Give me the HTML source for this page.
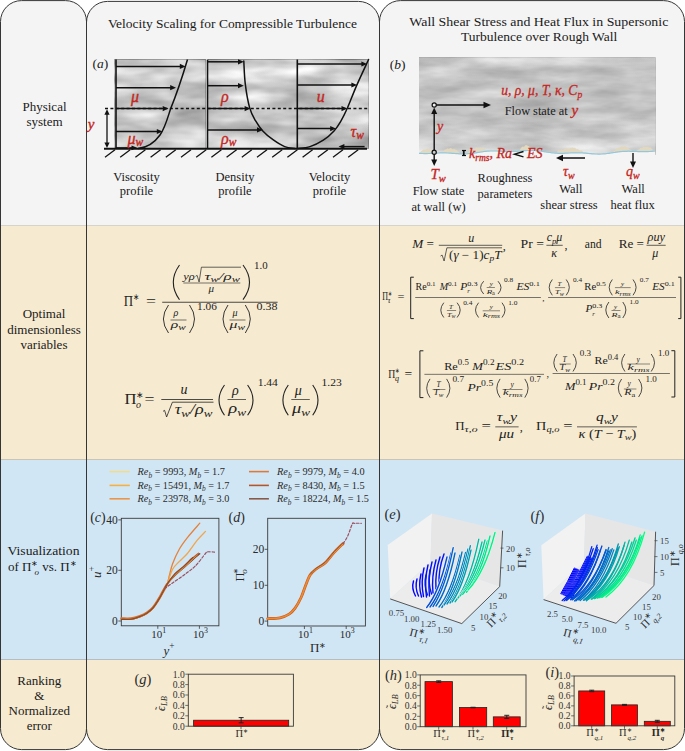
<!DOCTYPE html>
<html><head><meta charset="utf-8"><style>
html,body{margin:0;padding:0;background:#ffffff;width:685px;height:751px;overflow:hidden}
svg{display:block}
text{font-family:"Liberation Serif",serif}
</style></head><body>
<svg width="685" height="751" viewBox="0 0 685 751" fill="#1a1a1a">
<defs>
<clipPath id="col0"><rect x="0.5" y="0.6" width="86.0" height="749.0" rx="21" ry="21"/></clipPath>
<clipPath id="col1"><rect x="86.5" y="1.4" width="293.0" height="748.2" rx="21" ry="21"/></clipPath>
<clipPath id="col2"><rect x="379.5" y="0.6" width="305.0" height="749.0" rx="21" ry="21"/></clipPath>
<filter id="turbA" x="0" y="0" width="1" height="1" filterUnits="objectBoundingBox" color-interpolation-filters="sRGB">
<feTurbulence type="fractalNoise" baseFrequency="0.018 0.06" numOctaves="3" seed="5" result="n"/>
<feColorMatrix in="n" type="matrix" values="1 0 0 0 0  1 0 0 0 0  1 0 0 0 0  0 0 0 0 1" result="g"/>
<feComposite in="g" in2="SourceGraphic" operator="arithmetic" k1="0" k2="0.5" k3="1" k4="-0.25"/>
</filter>
<filter id="turbB" x="0" y="0" width="1" height="1" filterUnits="objectBoundingBox" color-interpolation-filters="sRGB">
<feTurbulence type="fractalNoise" baseFrequency="0.016 0.06" numOctaves="4" seed="11" result="n"/>
<feColorMatrix in="n" type="matrix" values="1 0 0 0 0  1 0 0 0 0  1 0 0 0 0  0 0 0 0 1" result="g"/>
<feComposite in="g" in2="SourceGraphic" operator="arithmetic" k1="0" k2="0.32" k3="1" k4="-0.16"/>
</filter>
<linearGradient id="gA" x1="0" y1="0" x2="0" y2="1">
<stop offset="0" stop-color="#d2d2d2"/><stop offset="0.45" stop-color="#cbcbcb"/><stop offset="0.8" stop-color="#c3c3c3"/><stop offset="1" stop-color="#cacaca"/>
</linearGradient>
<linearGradient id="gB" x1="0" y1="0" x2="0" y2="1">
<stop offset="0" stop-color="#cacaca"/><stop offset="0.3" stop-color="#c3c3c3"/><stop offset="0.6" stop-color="#c3c3c3"/><stop offset="0.85" stop-color="#cbcbcb"/><stop offset="1" stop-color="#d6d6d6"/>
</linearGradient>
</defs>
<g clip-path="url(#col0)">
<rect x="0.5" y="0" width="86.0" height="225" fill="#f4f4f4"/>
<rect x="0.5" y="225" width="86.0" height="234" fill="#f6ead0"/>
<rect x="0.5" y="459" width="86.0" height="200" fill="#d1e6f4"/>
<rect x="0.5" y="659" width="86.0" height="93" fill="#f6ead0"/>
<rect x="0.5" y="225" width="86.0" height="1" fill="#d6d3cb"/>
<rect x="0.5" y="459" width="86.0" height="1" fill="#cac4b4"/>
<rect x="0.5" y="659" width="86.0" height="1" fill="#b4bdc1"/>
</g>
<g clip-path="url(#col1)">
<rect x="86.5" y="0" width="293.0" height="225" fill="#f4f4f4"/>
<rect x="86.5" y="225" width="293.0" height="234" fill="#f6ead0"/>
<rect x="86.5" y="459" width="293.0" height="200" fill="#d1e6f4"/>
<rect x="86.5" y="659" width="293.0" height="93" fill="#f6ead0"/>
<rect x="86.5" y="225" width="293.0" height="1" fill="#d6d3cb"/>
<rect x="86.5" y="459" width="293.0" height="1" fill="#cac4b4"/>
<rect x="86.5" y="659" width="293.0" height="1" fill="#b4bdc1"/>
</g>
<g clip-path="url(#col2)">
<rect x="379.5" y="0" width="305.0" height="225" fill="#f4f4f4"/>
<rect x="379.5" y="225" width="305.0" height="234" fill="#f6ead0"/>
<rect x="379.5" y="459" width="305.0" height="200" fill="#d1e6f4"/>
<rect x="379.5" y="659" width="305.0" height="93" fill="#f6ead0"/>
<rect x="379.5" y="225" width="305.0" height="1" fill="#d6d3cb"/>
<rect x="379.5" y="459" width="305.0" height="1" fill="#cac4b4"/>
<rect x="379.5" y="659" width="305.0" height="1" fill="#b4bdc1"/>
</g>
<rect x="0.5" y="0.6" width="86.0" height="749.0" rx="21" ry="21" fill="none" stroke="#353535" stroke-width="1.0"/>
<rect x="86.5" y="1.4" width="293.0" height="748.2" rx="21" ry="21" fill="none" stroke="#353535" stroke-width="1.0"/>
<rect x="379.5" y="0.6" width="305.0" height="749.0" rx="21" ry="21" fill="none" stroke="#353535" stroke-width="1.0"/>
<text x="44.5" y="110.8" font-size="13" text-anchor="middle">Physical</text>
<text x="44.5" y="126" font-size="13" text-anchor="middle">system</text>
<text x="44" y="318.4" font-size="13" text-anchor="middle">Optimal</text>
<text x="44" y="333.5" font-size="13" text-anchor="middle">dimensionless</text>
<text x="44" y="348.6" font-size="13" text-anchor="middle">variables</text>
<text x="43.5" y="555" font-size="13" text-anchor="middle" textLength="72" lengthAdjust="spacingAndGlyphs">Visualization</text>
<text x="8" y="570.7" font-size="13">of Π<tspan font-size="8" dy="-5">∗</tspan><tspan font-size="9" font-style="italic" dx="-4" dy="9">o</tspan><tspan dy="-4"> vs. Π</tspan><tspan font-size="8" dy="-5">∗</tspan></text>
<text x="39.3" y="684.8" font-size="13" text-anchor="middle">Ranking</text>
<text x="39.3" y="700.1" font-size="13" text-anchor="middle">&amp;</text>
<text x="39.3" y="715" font-size="13" text-anchor="middle">Normalized</text>
<text x="39.3" y="730" font-size="13" text-anchor="middle">error</text>
<text x="232.4" y="28.4" font-size="13.4" text-anchor="middle" textLength="249" lengthAdjust="spacingAndGlyphs">Velocity Scaling for Compressible Turbulence</text>
<text x="538.8" y="26" font-size="13.4" text-anchor="middle" textLength="259" lengthAdjust="spacingAndGlyphs">Wall Shear Stress and Heat Flux in Supersonic</text>
<text x="539.1" y="41.1" font-size="13.4" text-anchor="middle" textLength="156.4" lengthAdjust="spacingAndGlyphs">Turbulence over Rough Wall</text>
<rect x="114.8" y="59.3" width="91" height="89" fill="url(#gA)" filter="url(#turbA)"/>
<rect x="208" y="59.3" width="89" height="89" fill="url(#gA)" filter="url(#turbA)"/>
<rect x="297" y="59.3" width="71.8" height="89" fill="url(#gA)" filter="url(#turbA)"/>
<text x="92.5" y="68" font-size="13.5">(<tspan font-style="italic">a</tspan>)</text>
<line x1="116" y1="59.5" x2="116" y2="148.6" stroke="#111" stroke-width="1.6" />
<line x1="207.5" y1="59.5" x2="207.5" y2="148.6" stroke="#111" stroke-width="1.6" />
<line x1="297.3" y1="59.5" x2="297.3" y2="148.6" stroke="#111" stroke-width="1.6" />
<line x1="105" y1="108.6" x2="368" y2="108.6" stroke="#111" stroke-width="1.5" stroke-dasharray="3 2.4"/>
<line x1="104" y1="148.8" x2="367" y2="148.8" stroke="#111" stroke-width="2.0" />
<line x1="105.0" y1="157.2" x2="115.0" y2="149.8" stroke="#111" stroke-width="1.3" />
<line x1="120.2" y1="157.2" x2="130.2" y2="149.8" stroke="#111" stroke-width="1.3" />
<line x1="135.4" y1="157.2" x2="145.4" y2="149.8" stroke="#111" stroke-width="1.3" />
<line x1="150.6" y1="157.2" x2="160.6" y2="149.8" stroke="#111" stroke-width="1.3" />
<line x1="165.8" y1="157.2" x2="175.8" y2="149.8" stroke="#111" stroke-width="1.3" />
<line x1="181.0" y1="157.2" x2="191.0" y2="149.8" stroke="#111" stroke-width="1.3" />
<line x1="196.2" y1="157.2" x2="206.2" y2="149.8" stroke="#111" stroke-width="1.3" />
<line x1="211.39999999999998" y1="157.2" x2="221.39999999999998" y2="149.8" stroke="#111" stroke-width="1.3" />
<line x1="226.6" y1="157.2" x2="236.6" y2="149.8" stroke="#111" stroke-width="1.3" />
<line x1="241.79999999999998" y1="157.2" x2="251.79999999999998" y2="149.8" stroke="#111" stroke-width="1.3" />
<line x1="257.0" y1="157.2" x2="267.0" y2="149.8" stroke="#111" stroke-width="1.3" />
<line x1="272.2" y1="157.2" x2="282.2" y2="149.8" stroke="#111" stroke-width="1.3" />
<line x1="287.4" y1="157.2" x2="297.4" y2="149.8" stroke="#111" stroke-width="1.3" />
<line x1="302.6" y1="157.2" x2="312.6" y2="149.8" stroke="#111" stroke-width="1.3" />
<line x1="317.79999999999995" y1="157.2" x2="327.79999999999995" y2="149.8" stroke="#111" stroke-width="1.3" />
<line x1="333.0" y1="157.2" x2="343.0" y2="149.8" stroke="#111" stroke-width="1.3" />
<line x1="348.2" y1="157.2" x2="358.2" y2="149.8" stroke="#111" stroke-width="1.3" />
<line x1="116" y1="66.4" x2="180.79999999999998" y2="66.4" stroke="#111" stroke-width="1.5" />
<path d="M185.6,66.4 L179.8,69.0 L179.8,63.8 Z" fill="#111"/>
<line x1="116" y1="87.7" x2="171.2" y2="87.7" stroke="#111" stroke-width="1.5" />
<path d="M176.0,87.7 L170.2,90.3 L170.2,85.1 Z" fill="#111"/>
<line x1="116" y1="108.6" x2="163.7" y2="108.6" stroke="#111" stroke-width="1.5" />
<path d="M168.5,108.6 L162.7,111.2 L162.7,106.0 Z" fill="#111"/>
<line x1="116" y1="131.5" x2="157.79999999999998" y2="131.5" stroke="#111" stroke-width="1.5" />
<path d="M162.6,131.5 L156.8,134.1 L156.8,128.9 Z" fill="#111"/>
<line x1="116" y1="147.8" x2="132.5" y2="147.8" stroke="#111" stroke-width="1.3" />
<path d="M137.0,147.8 L131.5,150.2 L131.5,145.4 Z" fill="#111"/>
<path d="M187.5,59.5 C182,78 175,98 170.5,109 C167,120 165,128 160,135 C155,142 148,147.5 138,148.6" stroke="#111" stroke-width="1.5" fill="none" />
<line x1="207.5" y1="61.8" x2="239.0" y2="61.8" stroke="#111" stroke-width="1.5" />
<path d="M243.8,61.8 L238.0,64.4 L238.0,59.2 Z" fill="#111"/>
<line x1="207.5" y1="85.7" x2="239.0" y2="85.7" stroke="#111" stroke-width="1.5" />
<path d="M243.8,85.7 L238.0,88.3 L238.0,83.1 Z" fill="#111"/>
<line x1="207.5" y1="108.6" x2="245.6" y2="108.6" stroke="#111" stroke-width="1.5" />
<path d="M250.4,108.6 L244.6,111.2 L244.6,106.0 Z" fill="#111"/>
<line x1="207.5" y1="129.9" x2="258.0" y2="129.9" stroke="#111" stroke-width="1.5" />
<path d="M262.8,129.9 L257.0,132.5 L257.0,127.3 Z" fill="#111"/>
<path d="M243.80,61.00 C244.05,64.87 244.33,76.43 245.30,84.20 C246.27,91.97 247.90,101.52 249.60,107.60 C251.30,113.68 253.30,116.82 255.50,120.70 C257.70,124.58 259.88,127.73 262.80,130.90 C265.72,134.07 269.35,137.08 273.00,139.70 C276.65,142.32 281.03,145.15 284.70,146.60 C288.37,148.05 293.28,148.10 295.00,148.40" stroke="#111" stroke-width="1.5" fill="none"  stroke-linecap="round" stroke-linejoin="round"/>
<line x1="297.3" y1="64" x2="362.4" y2="64.0" stroke="#111" stroke-width="1.5" />
<path d="M367.2,64.0 L361.4,66.6 L361.4,61.4 Z" fill="#111"/>
<line x1="297.3" y1="85" x2="352.4" y2="85.0" stroke="#111" stroke-width="1.5" />
<path d="M357.2,85.0 L351.4,87.6 L351.4,82.4 Z" fill="#111"/>
<line x1="297.3" y1="108.6" x2="342.5" y2="108.6" stroke="#111" stroke-width="1.5" />
<path d="M347.3,108.6 L341.5,111.2 L341.5,106.0 Z" fill="#111"/>
<line x1="297.3" y1="128.6" x2="331.2" y2="128.6" stroke="#111" stroke-width="1.5" />
<path d="M336.0,128.6 L330.2,131.2 L330.2,126.0 Z" fill="#111"/>
<path d="M368.60,59.50 C366.60,63.85 360.15,77.47 356.60,85.60 C353.05,93.73 349.97,102.30 347.30,108.30 C344.63,114.30 342.82,117.83 340.60,121.60 C338.38,125.37 336.88,127.80 334.00,130.90 C331.12,134.00 327.30,137.58 323.30,140.20 C319.30,142.82 314.38,145.23 310.00,146.60 C305.62,147.97 299.17,148.10 297.00,148.40" stroke="#111" stroke-width="1.5" fill="none"  stroke-linecap="round" stroke-linejoin="round"/>
<line x1="364.6" y1="146.6" x2="343.40000000000003" y2="146.6" stroke="#111" stroke-width="1.5" />
<path d="M338.6,146.6 L344.4,144.0 L344.4,149.2 Z" fill="#111"/>
<line x1="107" y1="128" x2="107.0" y2="113.8" stroke="#111" stroke-width="1.3" />
<path d="M107.0,109.3 L109.6,114.8 L104.4,114.8 Z" fill="#111"/>
<line x1="107" y1="128" x2="107.0" y2="143.5" stroke="#111" stroke-width="1.3" />
<path d="M107.0,148.0 L104.4,142.5 L109.6,142.5 Z" fill="#111"/>
<text x="87.8" y="128.5" font-size="15" font-style="italic" fill="#c4261e" stroke="#c4261e" stroke-width="0.35">y</text>
<text x="131" y="101.6" font-size="16" font-style="italic" fill="#c4261e" stroke="#c4261e" stroke-width="0.35">μ</text>
<text x="127.5" y="143.5" font-size="16" font-style="italic" fill="#c4261e" stroke="#c4261e" stroke-width="0.35">μ<tspan font-size="11.5" dy="2">w</tspan></text>
<text x="221" y="101.6" font-size="16" font-style="italic" fill="#c4261e" stroke="#c4261e" stroke-width="0.35">ρ</text>
<text x="221" y="143.5" font-size="16" font-style="italic" fill="#c4261e" stroke="#c4261e" stroke-width="0.35">ρ<tspan font-size="11.5" dy="2">w</tspan></text>
<text x="316.8" y="101.6" font-size="16" font-style="italic" fill="#c4261e" stroke="#c4261e" stroke-width="0.35">u</text>
<text x="350.5" y="137" font-size="16" font-style="italic" fill="#c4261e" stroke="#c4261e" stroke-width="0.35">τ<tspan font-size="11.5" dy="2">w</tspan></text>
<text x="136.5" y="180.5" font-size="12.5" text-anchor="middle">Viscosity</text>
<text x="136.5" y="194.5" font-size="12.5" text-anchor="middle">profile</text>
<text x="235" y="180.5" font-size="12.5" text-anchor="middle">Density</text>
<text x="235" y="194.5" font-size="12.5" text-anchor="middle">profile</text>
<text x="329.5" y="180.5" font-size="12.5" text-anchor="middle">Velocity</text>
<text x="329.5" y="194.5" font-size="12.5" text-anchor="middle">profile</text>
<rect x="419" y="57.6" width="236.3" height="97" fill="url(#gB)" filter="url(#turbB)"/>
<path d="M419.0,152.7 L420.0,152.8 L421.0,151.2 L422.0,150.7 L423.0,149.7 L424.0,149.2 L425.0,149.8 L426.0,149.6 L427.0,148.2 L428.0,149.2 L429.0,149.4 L430.0,148.5 L431.0,149.8 L432.0,149.8 L433.0,151.2 L434.0,152.2 L435.0,152.6 L436.0,152.5 L437.0,152.5 L438.0,152.4 L439.0,152.4 L440.0,152.3 L441.0,152.3 L442.0,152.3 L443.0,152.3 L444.0,150.6 L445.0,149.5 L446.0,149.4 L447.0,148.6 L448.0,148.4 L449.0,149.2 L450.0,148.0 L451.0,148.2 L452.0,148.8 L453.0,149.5 L454.0,148.5 L455.0,149.6 L456.0,149.8 L457.0,150.2 L458.0,151.3 L459.0,152.3 L460.0,153.2 L461.0,153.2 L462.0,153.3 L463.0,153.3 L464.0,153.3 L465.0,153.3 L466.0,153.2 L467.0,153.2 L468.0,153.1 L469.0,151.2 L470.0,150.9 L471.0,149.5 L472.0,149.0 L473.0,149.7 L474.0,149.2 L475.0,148.7 L476.0,147.2 L477.0,147.9 L478.0,147.5 L479.0,148.0 L480.0,147.7 L481.0,148.0 L482.0,148.3 L483.0,148.3 L484.0,148.7 L485.0,148.8 L486.0,150.2 L487.0,150.6 L488.0,150.5 L489.0,150.5 L490.0,150.4 L491.0,150.4 L492.0,150.4 L493.0,150.4 L494.0,150.4 L495.0,150.4 L496.0,150.4 L497.0,150.4 L498.0,150.5 L499.0,150.5 L500.0,150.6 L501.0,150.6 L502.0,150.7 L503.0,150.7 L504.0,150.8 L505.0,150.8 L506.0,150.9 L507.0,150.9 L508.0,150.9 L509.0,151.0 L510.0,151.0 L511.0,151.0 L512.0,150.9 L513.0,150.9 L514.0,150.9 L515.0,150.8 L516.0,150.8 L517.0,150.7 L518.0,150.6 L519.0,150.5 L520.0,149.6 L521.0,148.1 L522.0,146.8 L523.0,146.6 L524.0,146.9 L525.0,145.4 L526.0,145.1 L527.0,145.2 L528.0,146.0 L529.0,146.2 L530.0,147.6 L531.0,147.5 L532.0,149.5 L533.0,149.9 L534.0,149.9 L535.0,149.9 L536.0,150.0 L537.0,150.1 L538.0,150.2 L539.0,150.3 L540.0,150.4 L541.0,150.6 L542.0,150.7 L543.0,150.9 L544.0,151.0 L545.0,151.2 L546.0,151.3 L547.0,151.5 L548.0,151.6 L549.0,151.8 L550.0,151.9 L551.0,152.1 L552.0,152.2 L553.0,152.3 L554.0,152.4 L555.0,152.5 L556.0,152.6 L557.0,152.2 L558.0,150.5 L559.0,149.9 L560.0,150.9 L561.0,149.5 L562.0,149.8 L563.0,149.9 L564.0,149.4 L565.0,148.4 L566.0,148.1 L567.0,149.2 L568.0,148.2 L569.0,149.0 L570.0,147.8 L571.0,148.4 L572.0,147.5 L573.0,147.4 L574.0,148.3 L575.0,147.6 L576.0,148.9 L577.0,149.5 L578.0,149.0 L579.0,150.2 L580.0,150.3 L581.0,150.4 L582.0,150.6 L583.0,151.9 L584.0,152.5 L585.0,152.5 L586.0,152.6 L587.0,152.7 L588.0,152.8 L589.0,152.9 L590.0,153.0 L591.0,153.1 L592.0,153.2 L593.0,153.2 L594.0,153.3 L595.0,153.4 L596.0,153.4 L597.0,153.4 L598.0,153.5 L599.0,153.5 L600.0,153.5 L601.0,153.4 L602.0,153.4 L603.0,153.3 L604.0,153.2 L605.0,153.2 L606.0,153.1 L607.0,152.9 L608.0,152.8 L609.0,152.7 L610.0,152.5 L611.0,152.4 L612.0,152.2 L613.0,152.1 L614.0,151.1 L615.0,150.6 L616.0,148.7 L617.0,148.1 L618.0,148.3 L619.0,147.7 L620.0,147.2 L621.0,146.7 L622.0,146.6 L623.0,146.5 L624.0,146.5 L625.0,146.1 L626.0,147.0 L627.0,147.5 L628.0,147.5 L629.0,148.9 L630.0,149.6 L631.0,149.7 L632.0,150.7 L633.0,150.7 L634.0,150.8 L635.0,150.8 L636.0,150.9 L637.0,150.7 L638.0,149.5 L639.0,149.6 L640.0,148.4 L641.0,147.7 L642.0,148.2 L643.0,147.0 L644.0,146.8 L645.0,147.6 L646.0,146.7 L647.0,147.0 L648.0,146.8 L649.0,147.5 L650.0,147.3 L651.0,147.7 L652.0,149.3 L653.0,149.9 L654.0,150.0 L655.0,150.4 L655.0,151.5 L654.0,151.6 L653.0,151.7 L652.0,151.8 L651.0,151.9 L650.0,152.0 L649.0,152.0 L648.0,152.1 L647.0,152.1 L646.0,152.2 L645.0,152.2 L644.0,152.2 L643.0,152.2 L642.0,152.2 L641.0,152.2 L640.0,152.1 L639.0,152.1 L638.0,152.1 L637.0,152.0 L636.0,152.0 L635.0,151.9 L634.0,151.9 L633.0,151.8 L632.0,151.8 L631.0,151.8 L630.0,151.8 L629.0,151.7 L628.0,151.7 L627.0,151.8 L626.0,151.8 L625.0,151.8 L624.0,151.9 L623.0,151.9 L622.0,152.0 L621.0,152.1 L620.0,152.2 L619.0,152.3 L618.0,152.4 L617.0,152.6 L616.0,152.7 L615.0,152.9 L614.0,153.0 L613.0,153.2 L612.0,153.3 L611.0,153.5 L610.0,153.6 L609.0,153.8 L608.0,153.9 L607.0,154.0 L606.0,154.2 L605.0,154.3 L604.0,154.3 L603.0,154.4 L602.0,154.5 L601.0,154.5 L600.0,154.6 L599.0,154.6 L598.0,154.6 L597.0,154.5 L596.0,154.5 L595.0,154.5 L594.0,154.4 L593.0,154.3 L592.0,154.3 L591.0,154.2 L590.0,154.1 L589.0,154.0 L588.0,153.9 L587.0,153.8 L586.0,153.7 L585.0,153.6 L584.0,153.6 L583.0,153.5 L582.0,153.4 L581.0,153.4 L580.0,153.3 L579.0,153.3 L578.0,153.3 L577.0,153.3 L576.0,153.3 L575.0,153.3 L574.0,153.3 L573.0,153.3 L572.0,153.4 L571.0,153.4 L570.0,153.5 L569.0,153.5 L568.0,153.6 L567.0,153.6 L566.0,153.7 L565.0,153.7 L564.0,153.8 L563.0,153.8 L562.0,153.8 L561.0,153.8 L560.0,153.8 L559.0,153.8 L558.0,153.8 L557.0,153.7 L556.0,153.7 L555.0,153.6 L554.0,153.5 L553.0,153.4 L552.0,153.3 L551.0,153.2 L550.0,153.0 L549.0,152.9 L548.0,152.7 L547.0,152.6 L546.0,152.4 L545.0,152.3 L544.0,152.1 L543.0,152.0 L542.0,151.8 L541.0,151.7 L540.0,151.5 L539.0,151.4 L538.0,151.3 L537.0,151.2 L536.0,151.1 L535.0,151.0 L534.0,151.0 L533.0,151.0 L532.0,150.9 L531.0,150.9 L530.0,150.9 L529.0,151.0 L528.0,151.0 L527.0,151.0 L526.0,151.1 L525.0,151.2 L524.0,151.2 L523.0,151.3 L522.0,151.4 L521.0,151.5 L520.0,151.6 L519.0,151.6 L518.0,151.7 L517.0,151.8 L516.0,151.9 L515.0,151.9 L514.0,152.0 L513.0,152.0 L512.0,152.0 L511.0,152.1 L510.0,152.1 L509.0,152.1 L508.0,152.0 L507.0,152.0 L506.0,152.0 L505.0,151.9 L504.0,151.9 L503.0,151.8 L502.0,151.8 L501.0,151.7 L500.0,151.7 L499.0,151.6 L498.0,151.6 L497.0,151.5 L496.0,151.5 L495.0,151.5 L494.0,151.5 L493.0,151.5 L492.0,151.5 L491.0,151.5 L490.0,151.5 L489.0,151.6 L488.0,151.6 L487.0,151.7 L486.0,151.8 L485.0,151.9 L484.0,152.0 L483.0,152.2 L482.0,152.3 L481.0,152.5 L480.0,152.6 L479.0,152.8 L478.0,152.9 L477.0,153.1 L476.0,153.3 L475.0,153.4 L474.0,153.6 L473.0,153.7 L472.0,153.8 L471.0,153.9 L470.0,154.0 L469.0,154.1 L468.0,154.2 L467.0,154.3 L466.0,154.3 L465.0,154.4 L464.0,154.4 L463.0,154.4 L462.0,154.4 L461.0,154.3 L460.0,154.3 L459.0,154.3 L458.0,154.2 L457.0,154.1 L456.0,154.1 L455.0,154.0 L454.0,153.9 L453.0,153.8 L452.0,153.8 L451.0,153.7 L450.0,153.6 L449.0,153.6 L448.0,153.5 L447.0,153.5 L446.0,153.4 L445.0,153.4 L444.0,153.4 L443.0,153.4 L442.0,153.4 L441.0,153.4 L440.0,153.4 L439.0,153.5 L438.0,153.5 L437.0,153.6 L436.0,153.6 L435.0,153.7 L434.0,153.7 L433.0,153.8 L432.0,153.9 L431.0,153.9 L430.0,154.0 L429.0,154.0 L428.0,154.0 L427.0,154.1 L426.0,154.1 L425.0,154.1 L424.0,154.1 L423.0,154.0 L422.0,154.0 L421.0,153.9 L420.0,153.9 L419.0,153.8 Z" fill="#e2d8bf"/>
<path d="M419,153.5 L419.0,153.5 L420.0,153.6 L421.0,153.6 L422.0,153.7 L423.0,153.7 L424.0,153.8 L425.0,153.8 L426.0,153.8 L427.0,153.8 L428.0,153.7 L429.0,153.7 L430.0,153.7 L431.0,153.6 L432.0,153.6 L433.0,153.5 L434.0,153.4 L435.0,153.4 L436.0,153.3 L437.0,153.3 L438.0,153.2 L439.0,153.2 L440.0,153.1 L441.0,153.1 L442.0,153.1 L443.0,153.1 L444.0,153.1 L445.0,153.1 L446.0,153.1 L447.0,153.2 L448.0,153.2 L449.0,153.3 L450.0,153.3 L451.0,153.4 L452.0,153.5 L453.0,153.5 L454.0,153.6 L455.0,153.7 L456.0,153.8 L457.0,153.8 L458.0,153.9 L459.0,154.0 L460.0,154.0 L461.0,154.0 L462.0,154.1 L463.0,154.1 L464.0,154.1 L465.0,154.1 L466.0,154.0 L467.0,154.0 L468.0,153.9 L469.0,153.8 L470.0,153.7 L471.0,153.6 L472.0,153.5 L473.0,153.4 L474.0,153.3 L475.0,153.1 L476.0,153.0 L477.0,152.8 L478.0,152.6 L479.0,152.5 L480.0,152.3 L481.0,152.2 L482.0,152.0 L483.0,151.9 L484.0,151.7 L485.0,151.6 L486.0,151.5 L487.0,151.4 L488.0,151.3 L489.0,151.3 L490.0,151.2 L491.0,151.2 L492.0,151.2 L493.0,151.2 L494.0,151.2 L495.0,151.2 L496.0,151.2 L497.0,151.2 L498.0,151.3 L499.0,151.3 L500.0,151.4 L501.0,151.4 L502.0,151.5 L503.0,151.5 L504.0,151.6 L505.0,151.6 L506.0,151.7 L507.0,151.7 L508.0,151.7 L509.0,151.8 L510.0,151.8 L511.0,151.8 L512.0,151.7 L513.0,151.7 L514.0,151.7 L515.0,151.6 L516.0,151.6 L517.0,151.5 L518.0,151.4 L519.0,151.3 L520.0,151.3 L521.0,151.2 L522.0,151.1 L523.0,151.0 L524.0,150.9 L525.0,150.9 L526.0,150.8 L527.0,150.7 L528.0,150.7 L529.0,150.7 L530.0,150.6 L531.0,150.6 L532.0,150.6 L533.0,150.7 L534.0,150.7 L535.0,150.7 L536.0,150.8 L537.0,150.9 L538.0,151.0 L539.0,151.1 L540.0,151.2 L541.0,151.4 L542.0,151.5 L543.0,151.7 L544.0,151.8 L545.0,152.0 L546.0,152.1 L547.0,152.3 L548.0,152.4 L549.0,152.6 L550.0,152.7 L551.0,152.9 L552.0,153.0 L553.0,153.1 L554.0,153.2 L555.0,153.3 L556.0,153.4 L557.0,153.4 L558.0,153.5 L559.0,153.5 L560.0,153.5 L561.0,153.5 L562.0,153.5 L563.0,153.5 L564.0,153.5 L565.0,153.4 L566.0,153.4 L567.0,153.3 L568.0,153.3 L569.0,153.2 L570.0,153.2 L571.0,153.1 L572.0,153.1 L573.0,153.0 L574.0,153.0 L575.0,153.0 L576.0,153.0 L577.0,153.0 L578.0,153.0 L579.0,153.0 L580.0,153.0 L581.0,153.1 L582.0,153.1 L583.0,153.2 L584.0,153.3 L585.0,153.3 L586.0,153.4 L587.0,153.5 L588.0,153.6 L589.0,153.7 L590.0,153.8 L591.0,153.9 L592.0,154.0 L593.0,154.0 L594.0,154.1 L595.0,154.2 L596.0,154.2 L597.0,154.2 L598.0,154.3 L599.0,154.3 L600.0,154.3 L601.0,154.2 L602.0,154.2 L603.0,154.1 L604.0,154.0 L605.0,154.0 L606.0,153.9 L607.0,153.7 L608.0,153.6 L609.0,153.5 L610.0,153.3 L611.0,153.2 L612.0,153.0 L613.0,152.9 L614.0,152.7 L615.0,152.6 L616.0,152.4 L617.0,152.3 L618.0,152.1 L619.0,152.0 L620.0,151.9 L621.0,151.8 L622.0,151.7 L623.0,151.6 L624.0,151.6 L625.0,151.5 L626.0,151.5 L627.0,151.5 L628.0,151.4 L629.0,151.4 L630.0,151.5 L631.0,151.5 L632.0,151.5 L633.0,151.5 L634.0,151.6 L635.0,151.6 L636.0,151.7 L637.0,151.7 L638.0,151.8 L639.0,151.8 L640.0,151.8 L641.0,151.9 L642.0,151.9 L643.0,151.9 L644.0,151.9 L645.0,151.9 L646.0,151.9 L647.0,151.8 L648.0,151.8 L649.0,151.7 L650.0,151.7 L651.0,151.6 L652.0,151.5 L653.0,151.4 L654.0,151.3 L655.0,151.2 L655.5,155 L419,155 Z" fill="#f4f4f4"/>
<polyline points="419.0,153.3 420.0,153.4 421.0,153.4 422.0,153.5 423.0,153.5 424.0,153.6 425.0,153.6 426.0,153.6 427.0,153.6 428.0,153.5 429.0,153.5 430.0,153.5 431.0,153.4 432.0,153.4 433.0,153.3 434.0,153.2 435.0,153.2 436.0,153.1 437.0,153.1 438.0,153.0 439.0,153.0 440.0,152.9 441.0,152.9 442.0,152.9 443.0,152.9 444.0,152.9 445.0,152.9 446.0,152.9 447.0,153.0 448.0,153.0 449.0,153.1 450.0,153.1 451.0,153.2 452.0,153.3 453.0,153.3 454.0,153.4 455.0,153.5 456.0,153.6 457.0,153.6 458.0,153.7 459.0,153.8 460.0,153.8 461.0,153.8 462.0,153.9 463.0,153.9 464.0,153.9 465.0,153.9 466.0,153.8 467.0,153.8 468.0,153.7 469.0,153.6 470.0,153.5 471.0,153.4 472.0,153.3 473.0,153.2 474.0,153.1 475.0,152.9 476.0,152.8 477.0,152.6 478.0,152.4 479.0,152.3 480.0,152.1 481.0,152.0 482.0,151.8 483.0,151.7 484.0,151.5 485.0,151.4 486.0,151.3 487.0,151.2 488.0,151.1 489.0,151.1 490.0,151.0 491.0,151.0 492.0,151.0 493.0,151.0 494.0,151.0 495.0,151.0 496.0,151.0 497.0,151.0 498.0,151.1 499.0,151.1 500.0,151.2 501.0,151.2 502.0,151.3 503.0,151.3 504.0,151.4 505.0,151.4 506.0,151.5 507.0,151.5 508.0,151.5 509.0,151.6 510.0,151.6 511.0,151.6 512.0,151.5 513.0,151.5 514.0,151.5 515.0,151.4 516.0,151.4 517.0,151.3 518.0,151.2 519.0,151.1 520.0,151.1 521.0,151.0 522.0,150.9 523.0,150.8 524.0,150.7 525.0,150.7 526.0,150.6 527.0,150.5 528.0,150.5 529.0,150.5 530.0,150.4 531.0,150.4 532.0,150.4 533.0,150.5 534.0,150.5 535.0,150.5 536.0,150.6 537.0,150.7 538.0,150.8 539.0,150.9 540.0,151.0 541.0,151.2 542.0,151.3 543.0,151.5 544.0,151.6 545.0,151.8 546.0,151.9 547.0,152.1 548.0,152.2 549.0,152.4 550.0,152.5 551.0,152.7 552.0,152.8 553.0,152.9 554.0,153.0 555.0,153.1 556.0,153.2 557.0,153.2 558.0,153.3 559.0,153.3 560.0,153.3 561.0,153.3 562.0,153.3 563.0,153.3 564.0,153.3 565.0,153.2 566.0,153.2 567.0,153.1 568.0,153.1 569.0,153.0 570.0,153.0 571.0,152.9 572.0,152.9 573.0,152.8 574.0,152.8 575.0,152.8 576.0,152.8 577.0,152.8 578.0,152.8 579.0,152.8 580.0,152.8 581.0,152.9 582.0,152.9 583.0,153.0 584.0,153.1 585.0,153.1 586.0,153.2 587.0,153.3 588.0,153.4 589.0,153.5 590.0,153.6 591.0,153.7 592.0,153.8 593.0,153.8 594.0,153.9 595.0,154.0 596.0,154.0 597.0,154.0 598.0,154.1 599.0,154.1 600.0,154.1 601.0,154.0 602.0,154.0 603.0,153.9 604.0,153.8 605.0,153.8 606.0,153.7 607.0,153.5 608.0,153.4 609.0,153.3 610.0,153.1 611.0,153.0 612.0,152.8 613.0,152.7 614.0,152.5 615.0,152.4 616.0,152.2 617.0,152.1 618.0,151.9 619.0,151.8 620.0,151.7 621.0,151.6 622.0,151.5 623.0,151.4 624.0,151.4 625.0,151.3 626.0,151.3 627.0,151.3 628.0,151.2 629.0,151.2 630.0,151.3 631.0,151.3 632.0,151.3 633.0,151.3 634.0,151.4 635.0,151.4 636.0,151.5 637.0,151.5 638.0,151.6 639.0,151.6 640.0,151.6 641.0,151.7 642.0,151.7 643.0,151.7 644.0,151.7 645.0,151.7 646.0,151.7 647.0,151.6 648.0,151.6 649.0,151.5 650.0,151.5 651.0,151.4 652.0,151.3 653.0,151.2 654.0,151.1 655.0,151.0" fill="none" stroke="#92c8de" stroke-width="1.2"/>
<text x="389.8" y="68.5" font-size="13.5">(<tspan font-style="italic">b</tspan>)</text>
<line x1="434.2" y1="152.3" x2="434.2" y2="113.0" stroke="#111" stroke-width="1.4" />
<path d="M434.2,107.5 L437.2,114.0 L431.2,114.0 Z" fill="#111"/>
<line x1="434.2" y1="105" x2="484.5" y2="105.0" stroke="#111" stroke-width="1.5" />
<path d="M491.0,105.0 L483.5,108.3 L483.5,101.7 Z" fill="#111"/>
<line x1="434.2" y1="152.3" x2="434.2" y2="160.5" stroke="#111" stroke-width="1.4" />
<path d="M434.2,166.0 L431.2,159.5 L437.2,159.5 Z" fill="#111"/>
<circle cx="434.2" cy="105" r="2.1" fill="#eee" stroke="#111" stroke-width="1.2"/>
<circle cx="434.2" cy="152.3" r="2.1" fill="#ccc" stroke="#111" stroke-width="1.2"/>
<text x="437" y="131" font-size="14" font-style="italic" fill="#c4261e" stroke="#c4261e" stroke-width="0.3">y</text>
<text x="430.5" y="178.5" font-size="15" font-style="italic" fill="#c4261e" stroke="#c4261e" stroke-width="0.3">T<tspan font-size="10.5" dy="3">w</tspan></text>
<text x="438.5" y="195" font-size="12.5" text-anchor="middle">Flow state</text>
<text x="438.5" y="211" font-size="12.5" text-anchor="middle">at wall (w)</text>
<text x="505" y="182" font-size="12.5" text-anchor="middle">Roughness</text>
<text x="505" y="197.5" font-size="12.5" text-anchor="middle">parameters</text>
<line x1="463.5" y1="150.5" x2="463.5" y2="155.5" stroke="#111" stroke-width="1.2" />
<line x1="465.7" y1="150.5" x2="465.7" y2="155.5" stroke="#111" stroke-width="0.0" />
<line x1="462" y1="150.5" x2="466" y2="150.5" stroke="#111" stroke-width="1.2" />
<line x1="462" y1="155.5" x2="466" y2="155.5" stroke="#111" stroke-width="1.2" />
<line x1="464" y1="150.5" x2="464" y2="155.5" stroke="#111" stroke-width="1.2" />
<text x="469" y="157.5" font-size="14" font-style="italic" fill="#c4261e" stroke="#c4261e" stroke-width="0.3">k<tspan font-size="9.5" dy="3">rms</tspan><tspan dy="-3">, Ra</tspan></text>
<path d="M523.5,151.5 L514.5,154.2 L523.5,156.8" fill="none" stroke="#111" stroke-width="1.4"/>
<text x="527" y="157.5" font-size="14" font-style="italic" fill="#c4261e" stroke="#c4261e" stroke-width="0.3">ES</text>
<text x="501.2" y="94.6" font-size="15" font-style="italic" fill="#c4261e" stroke="#c4261e" stroke-width="0.3" textLength="81" lengthAdjust="spacingAndGlyphs">u, ρ, μ, T, κ, C<tspan font-size="10.5" dy="3">p</tspan></text>
<text x="504.7" y="114.8" font-size="12.5" textLength="63" lengthAdjust="spacingAndGlyphs">Flow state at</text>
<text x="571.5" y="114.8" font-size="15" font-style="italic" fill="#c4261e" stroke="#c4261e" stroke-width="0.3">y</text>
<line x1="585" y1="158" x2="562.0" y2="158.0" stroke="#111" stroke-width="1.5" />
<path d="M556.0,158.0 L563.0,154.8 L563.0,161.2 Z" fill="#111"/>
<text x="563" y="175.6" font-size="14" font-style="italic" fill="#c4261e" stroke="#c4261e" stroke-width="0.3">τ<tspan font-size="10" dy="3">w</tspan></text>
<text x="570.9" y="193" font-size="12.5" text-anchor="middle">Wall</text>
<text x="569" y="208.5" font-size="12.5" text-anchor="middle">shear stress</text>
<line x1="633" y1="153" x2="633.0" y2="162.5" stroke="#111" stroke-width="1.4" />
<path d="M633.0,168.0 L630.0,161.5 L636.0,161.5 Z" fill="#111"/>
<text x="626" y="175.6" font-size="14" font-style="italic" fill="#c4261e" stroke="#c4261e" stroke-width="0.3">q<tspan font-size="10" dy="3">w</tspan></text>
<text x="633.2" y="193" font-size="12.5" text-anchor="middle">Wall</text>
<text x="632.6" y="208.5" font-size="12.5" text-anchor="middle">heat flux</text>
<text x="123.7" y="305.9" font-size="15.5" fill="#222" textLength="16" lengthAdjust="spacingAndGlyphs"><tspan>Π</tspan><tspan dy="-5.58" font-size="8.99">∗</tspan></text>
<text x="146" y="305.9" font-size="15.5" fill="#222" textLength="10" lengthAdjust="spacingAndGlyphs"><tspan>=</tspan></text>
<rect x="162.2" y="301.80" width="115.40" height="0.8" fill="#222"/>
<path d="M179.5,265 Q167.10,282.35 179.5,299.7" stroke="#222" stroke-width="1.1" fill="none" />
<path d="M243,265 Q256.00,282.35 243,299.7" stroke="#222" stroke-width="1.1" fill="none" />
<text x="254" y="269.4" font-size="10.5" fill="#222" textLength="13.6" lengthAdjust="spacingAndGlyphs"><tspan>1.0</tspan></text>
<text x="183.3" y="279.8" font-size="11" fill="#222" textLength="11.5" lengthAdjust="spacingAndGlyphs"><tspan font-style="italic">yρ</tspan></text>
<path d="M195.5,276.34 L197.10,275.34 L199.10,282 L201.40,267.2 H241" stroke="#222" stroke-width="0.7" fill="none" />
<text x="204.5" y="279.8" font-size="11" fill="#222" textLength="35.5" lengthAdjust="spacingAndGlyphs"><tspan font-style="italic">τ</tspan><tspan dy="2.42" font-size="7.92" font-style="italic">w</tspan><tspan dy="-2.42" font-style="italic">/ρ</tspan><tspan dy="2.42" font-size="7.92" font-style="italic">w</tspan></text>
<rect x="183.3" y="282.70" width="57.00" height="0.6" fill="#222"/>
<text x="208.5" y="291.7" font-size="11" fill="#222"><tspan font-style="italic">μ</tspan></text>
<path d="M168.5,305 Q158.30,319.00 168.5,333" stroke="#222" stroke-width="0.9" fill="none" />
<text x="173.5" y="315.8" font-size="10" fill="#222"><tspan font-style="italic">ρ</tspan></text>
<rect x="170.5" y="319.70" width="16.00" height="0.6" fill="#222"/>
<text x="170.8" y="328.2" font-size="10" fill="#222" textLength="15" lengthAdjust="spacingAndGlyphs"><tspan font-style="italic">ρ</tspan><tspan dy="2.20" font-size="7.20" font-style="italic">w</tspan></text>
<path d="M189.5,305 Q199.50,319.00 189.5,333" stroke="#222" stroke-width="0.9" fill="none" />
<text x="197" y="310" font-size="10.5" fill="#222" textLength="19.8" lengthAdjust="spacingAndGlyphs"><tspan>1.06</tspan></text>
<path d="M228,305 Q218.00,319.00 228,333" stroke="#222" stroke-width="0.9" fill="none" />
<text x="232.5" y="315.8" font-size="10" fill="#222"><tspan font-style="italic">μ</tspan></text>
<rect x="229.5" y="319.70" width="16.00" height="0.6" fill="#222"/>
<text x="229.5" y="328.2" font-size="10" fill="#222" textLength="15.5" lengthAdjust="spacingAndGlyphs"><tspan font-style="italic">μ</tspan><tspan dy="2.20" font-size="7.20" font-style="italic">w</tspan></text>
<path d="M245.3,305 Q255.30,319.00 245.3,333" stroke="#222" stroke-width="0.9" fill="none" />
<text x="256.5" y="310" font-size="10.5" fill="#222" textLength="21" lengthAdjust="spacingAndGlyphs"><tspan>0.38</tspan></text>
<text x="124.4" y="403.6" font-size="15.5" fill="#222" textLength="12" lengthAdjust="spacingAndGlyphs"><tspan>Π</tspan></text>
<text x="136.4" y="397.5" font-size="8.5" fill="#222"><tspan>∗</tspan></text>
<text x="136" y="408" font-size="10" fill="#222"><tspan font-style="italic">o</tspan></text>
<text x="144.5" y="403.6" font-size="15.5" fill="#222" textLength="10" lengthAdjust="spacingAndGlyphs"><tspan>=</tspan></text>
<rect x="161.3" y="399.00" width="51.70" height="0.8" fill="#222"/>
<text x="180.5" y="393.5" font-size="14" fill="#222"><tspan font-style="italic">u</tspan></text>
<path d="M163,411.34 L164.60,410.34 L166.60,417 L172.40,402.2 H213.5" stroke="#222" stroke-width="0.8" fill="none" />
<text x="174.8" y="413.7" font-size="14" fill="#222" textLength="37.6" lengthAdjust="spacingAndGlyphs"><tspan font-style="italic">τ</tspan><tspan dy="3.08" font-size="10.08" font-style="italic">w</tspan><tspan dy="-3.08" font-style="italic">/ρ</tspan><tspan dy="3.08" font-size="10.08" font-style="italic">w</tspan></text>
<path d="M224.5,385 Q213.50,400.15 224.5,415.3" stroke="#222" stroke-width="1.1" fill="none" />
<text x="232" y="395" font-size="14" fill="#222"><tspan font-style="italic">ρ</tspan></text>
<rect x="227.5" y="399.05" width="18.50" height="0.7" fill="#222"/>
<text x="228.3" y="413" font-size="14" fill="#222" textLength="17.8" lengthAdjust="spacingAndGlyphs"><tspan font-style="italic">ρ</tspan><tspan dy="3.08" font-size="10.08" font-style="italic">w</tspan></text>
<path d="M247.6,385 Q258.40,400.15 247.6,415.3" stroke="#222" stroke-width="1.1" fill="none" />
<text x="257.7" y="386" font-size="10.5" fill="#222" textLength="20.2" lengthAdjust="spacingAndGlyphs"><tspan>1.44</tspan></text>
<path d="M288.3,385 Q277.50,400.15 288.3,415.3" stroke="#222" stroke-width="1.1" fill="none" />
<text x="294.8" y="395" font-size="14" fill="#222"><tspan font-style="italic">μ</tspan></text>
<rect x="291.3" y="399.05" width="18.50" height="0.7" fill="#222"/>
<text x="292" y="413" font-size="14" fill="#222" textLength="18" lengthAdjust="spacingAndGlyphs"><tspan font-style="italic">μ</tspan><tspan dy="3.08" font-size="10.08" font-style="italic">w</tspan></text>
<path d="M312.7,385 Q323.30,400.15 312.7,415.3" stroke="#222" stroke-width="1.1" fill="none" />
<text x="321.5" y="386" font-size="10.5" fill="#222" textLength="20.2" lengthAdjust="spacingAndGlyphs"><tspan>1.23</tspan></text>
<text x="412.3" y="248.4" font-size="12.5" fill="#222" textLength="21.7" lengthAdjust="spacingAndGlyphs"><tspan font-style="italic">M</tspan><tspan> =</tspan></text>
<rect x="438.8" y="244.85" width="63.40" height="0.7" fill="#222"/>
<text x="468.3" y="241.5" font-size="12" fill="#222"><tspan font-style="italic">u</tspan></text>
<path d="M440.5,256.06 L442.10,255.06 L444.10,261 L446.90,247.8 H502" stroke="#222" stroke-width="0.7" fill="none" />
<text x="449" y="258.5" font-size="12" fill="#222" textLength="52.5" lengthAdjust="spacingAndGlyphs"><tspan>(</tspan><tspan font-style="italic">γ</tspan><tspan> − 1)</tspan><tspan font-style="italic">c</tspan><tspan dy="2.64" font-size="8.64" font-style="italic">p</tspan><tspan dy="-2.64" font-style="italic">T</tspan></text>
<text x="502.8" y="250" font-size="12" fill="#222"><tspan>,</tspan></text>
<text x="520.6" y="248.4" font-size="12.5" fill="#222" textLength="23.4" lengthAdjust="spacingAndGlyphs"><tspan>Pr =</tspan></text>
<rect x="546.4" y="244.85" width="16.30" height="0.7" fill="#222"/>
<text x="546.8" y="241" font-size="12" fill="#222" textLength="15.5" lengthAdjust="spacingAndGlyphs"><tspan font-style="italic">c</tspan><tspan dy="2.64" font-size="8.64" font-style="italic">p</tspan><tspan dy="-2.64" font-style="italic">μ</tspan></text>
<text x="551.3" y="256.6" font-size="12" fill="#222"><tspan font-style="italic">κ</tspan></text>
<text x="564.5" y="249" font-size="12" fill="#222"><tspan>,</tspan></text>
<text x="584.8" y="248.4" font-size="12.5" fill="#222" textLength="16.8" lengthAdjust="spacingAndGlyphs"><tspan>and</tspan></text>
<text x="618.7" y="248.4" font-size="12.5" fill="#222" textLength="25.3" lengthAdjust="spacingAndGlyphs"><tspan>Re =</tspan></text>
<rect x="646.5" y="244.85" width="19.20" height="0.7" fill="#222"/>
<text x="647.5" y="241" font-size="12" fill="#222" textLength="17.5" lengthAdjust="spacingAndGlyphs"><tspan font-style="italic">ρuy</tspan></text>
<text x="652.2" y="256.6" font-size="12" fill="#222"><tspan font-style="italic">μ</tspan></text>
<text x="382.3" y="300" font-size="11.5" fill="#222" textLength="10" lengthAdjust="spacingAndGlyphs"><tspan>Π</tspan><tspan dy="-4.14" font-size="6.67">∗</tspan></text>
<text x="387.8" y="302.5" font-size="7.5" fill="#222"><tspan font-style="italic">τ</tspan></text>
<text x="397.5" y="300" font-size="11" fill="#222" textLength="7" lengthAdjust="spacingAndGlyphs"><tspan>=</tspan></text>
<path d="M413.8,277.2 H410.7 V318.6 H413.8" stroke="#222" stroke-width="1.0" fill="none" />
<rect x="415.2" y="297.00" width="125.70" height="0.6" fill="#222"/>
<text x="415.6" y="290.4" font-size="9.6" fill="#222" textLength="20.1" lengthAdjust="spacingAndGlyphs"><tspan>Re</tspan><tspan dy="-4.03" font-size="6.91">0.1</tspan></text>
<text x="439.7" y="290.4" font-size="9.6" fill="#222" textLength="17.4" lengthAdjust="spacingAndGlyphs"><tspan font-style="italic">M</tspan><tspan dy="-4.03" font-size="6.91">0.1</tspan></text>
<text x="460.2" y="290.4" font-size="9.6" fill="#222" textLength="17.4" lengthAdjust="spacingAndGlyphs"><tspan font-style="italic">P</tspan><tspan dy="-4.03" font-size="6.91">0.3</tspan></text>
<text x="467.3" y="293.2" font-size="6.8" fill="#222"><tspan font-style="italic">r</tspan></text>
<path d="M483.7,281.2 Q477.50,287.60 483.7,294" stroke="#222" stroke-width="0.8" fill="none" />
<text x="489.8" y="286" font-size="7" fill="#222"><tspan font-style="italic">y</tspan></text>
<rect x="486.7" y="287.05" width="8.20" height="0.5" fill="#222"/>
<text x="486.7" y="293.5" font-size="7" fill="#222" textLength="8.2" lengthAdjust="spacingAndGlyphs"><tspan font-style="italic">R</tspan><tspan dy="1.54" font-size="5.04">a</tspan></text>
<path d="M498,281.2 Q504.00,287.60 498,294" stroke="#222" stroke-width="0.8" fill="none" />
<text x="504.1" y="282" font-size="7" fill="#222" textLength="9.2" lengthAdjust="spacingAndGlyphs"><tspan>0.8</tspan></text>
<text x="516.4" y="290.4" font-size="9.6" fill="#222" textLength="23.5" lengthAdjust="spacingAndGlyphs"><tspan font-style="italic">ES</tspan><tspan dy="-4.03" font-size="6.91">0.1</tspan></text>
<path d="M443.8,302.7 Q437.80,310.10 443.8,317.5" stroke="#222" stroke-width="0.8" fill="none" />
<text x="449" y="309" font-size="7" fill="#222"><tspan font-style="italic">T</tspan></text>
<rect x="446.9" y="310.15" width="9.20" height="0.5" fill="#222"/>
<text x="447" y="316.5" font-size="7" fill="#222" textLength="8.6" lengthAdjust="spacingAndGlyphs"><tspan font-style="italic">T</tspan><tspan dy="1.54" font-size="5.04" font-style="italic">w</tspan></text>
<path d="M457.1,302.7 Q463.30,310.10 457.1,317.5" stroke="#222" stroke-width="0.8" fill="none" />
<text x="463.2" y="304.6" font-size="7" fill="#222" textLength="9.2" lengthAdjust="spacingAndGlyphs"><tspan>0.4</tspan></text>
<path d="M478.6,302.7 Q472.40,310.10 478.6,317.5" stroke="#222" stroke-width="0.8" fill="none" />
<text x="489.8" y="308.8" font-size="7" fill="#222"><tspan font-style="italic">y</tspan></text>
<rect x="482.7" y="310.65" width="17.30" height="0.5" fill="#222"/>
<text x="482.7" y="316.8" font-size="7" fill="#222" textLength="17.3" lengthAdjust="spacingAndGlyphs"><tspan font-style="italic">k</tspan><tspan dy="1.54" font-size="5.04" font-style="italic">rms</tspan></text>
<path d="M502,302.7 Q508.00,310.10 502,317.5" stroke="#222" stroke-width="0.8" fill="none" />
<text x="508.2" y="304.6" font-size="7" fill="#222" textLength="9.2" lengthAdjust="spacingAndGlyphs"><tspan>1.0</tspan></text>
<text x="542.3" y="300.5" font-size="9" fill="#222"><tspan>,</tspan></text>
<rect x="548.1" y="297.30" width="127.90" height="0.6" fill="#222"/>
<path d="M552.3,279.5 Q546.10,287.40 552.3,295.3" stroke="#222" stroke-width="0.8" fill="none" />
<text x="557.5" y="286" font-size="7" fill="#222"><tspan font-style="italic">T</tspan></text>
<rect x="554.9" y="287.55" width="10.20" height="0.5" fill="#222"/>
<text x="555" y="294" font-size="7" fill="#222" textLength="9" lengthAdjust="spacingAndGlyphs"><tspan font-style="italic">T</tspan><tspan dy="1.54" font-size="5.04" font-style="italic">w</tspan></text>
<path d="M566.2,279.5 Q572.40,287.40 566.2,295.3" stroke="#222" stroke-width="0.8" fill="none" />
<text x="573" y="282.4" font-size="7" fill="#222" textLength="9" lengthAdjust="spacingAndGlyphs"><tspan>0.4</tspan></text>
<text x="584.3" y="289.7" font-size="9.6" fill="#222" textLength="21.5" lengthAdjust="spacingAndGlyphs"><tspan>Re</tspan><tspan dy="-4.03" font-size="6.91">0.5</tspan></text>
<path d="M612.3,279.5 Q606.10,287.40 612.3,295.3" stroke="#222" stroke-width="0.8" fill="none" />
<text x="621" y="286" font-size="7" fill="#222"><tspan font-style="italic">y</tspan></text>
<rect x="614.9" y="287.55" width="15.80" height="0.5" fill="#222"/>
<text x="614.9" y="294" font-size="7" fill="#222" textLength="15.8" lengthAdjust="spacingAndGlyphs"><tspan font-style="italic">k</tspan><tspan dy="1.54" font-size="5.04" font-style="italic">rms</tspan></text>
<path d="M633,279.5 Q639.20,287.40 633,295.3" stroke="#222" stroke-width="0.8" fill="none" />
<text x="639.8" y="282.4" font-size="7" fill="#222" textLength="9" lengthAdjust="spacingAndGlyphs"><tspan>0.7</tspan></text>
<text x="652.2" y="289.7" font-size="9.6" fill="#222" textLength="22.6" lengthAdjust="spacingAndGlyphs"><tspan font-style="italic">ES</tspan><tspan dy="-4.03" font-size="6.91">0.1</tspan></text>
<text x="585.4" y="312.3" font-size="9.6" fill="#222" textLength="17" lengthAdjust="spacingAndGlyphs"><tspan font-style="italic">P</tspan><tspan dy="-4.03" font-size="6.91">0.3</tspan></text>
<text x="592.2" y="315.5" font-size="6.8" fill="#222"><tspan font-style="italic">r</tspan></text>
<path d="M608.9,302 Q602.70,310.00 608.9,318" stroke="#222" stroke-width="0.8" fill="none" />
<text x="614" y="309" font-size="7" fill="#222"><tspan font-style="italic">y</tspan></text>
<rect x="611.5" y="310.15" width="9.00" height="0.5" fill="#222"/>
<text x="611.5" y="316.5" font-size="7" fill="#222" textLength="9" lengthAdjust="spacingAndGlyphs"><tspan font-style="italic">R</tspan><tspan dy="1.54" font-size="5.04">a</tspan></text>
<path d="M622.8,302 Q629.00,310.00 622.8,318" stroke="#222" stroke-width="0.8" fill="none" />
<text x="629.6" y="304" font-size="7" fill="#222" textLength="9" lengthAdjust="spacingAndGlyphs"><tspan>1.0</tspan></text>
<path d="M678.2,277.2 H680.9 V318.6 H678.2" stroke="#222" stroke-width="1.0" fill="none" />
<text x="388.2" y="377.7" font-size="12.5" fill="#222" textLength="11.7" lengthAdjust="spacingAndGlyphs"><tspan>Π</tspan><tspan dy="-4.50" font-size="7.25">∗</tspan></text>
<text x="395" y="381.2" font-size="8" fill="#222"><tspan font-style="italic">q</tspan></text>
<text x="404.5" y="377.7" font-size="12.5" fill="#222" textLength="7.7" lengthAdjust="spacingAndGlyphs"><tspan>=</tspan></text>
<path d="M423.4,350.8 H419.9 V397.6 H423.4" stroke="#222" stroke-width="1.0" fill="none" />
<rect x="424.4" y="373.90" width="119.60" height="0.6" fill="#222"/>
<text x="444.2" y="369.5" font-size="10.5" fill="#222" textLength="24.6" lengthAdjust="spacingAndGlyphs"><tspan>Re</tspan><tspan dy="-4.41" font-size="7.56">0.5</tspan></text>
<text x="472.3" y="369.5" font-size="10.5" fill="#222" textLength="22.2" lengthAdjust="spacingAndGlyphs"><tspan font-style="italic">M</tspan><tspan dy="-4.41" font-size="7.56">0.2</tspan></text>
<text x="495.6" y="369.5" font-size="10.5" fill="#222" textLength="28.5" lengthAdjust="spacingAndGlyphs"><tspan font-style="italic">ES</tspan><tspan dy="-4.41" font-size="7.56">0.2</tspan></text>
<path d="M430,378.9 Q423.40,388.25 430,397.6" stroke="#222" stroke-width="0.8" fill="none" />
<text x="436.5" y="386.6" font-size="7.5" fill="#222"><tspan font-style="italic">T</tspan></text>
<rect x="432.6" y="389.15" width="12.80" height="0.5" fill="#222"/>
<text x="433.5" y="395.2" font-size="7.5" fill="#222" textLength="10" lengthAdjust="spacingAndGlyphs"><tspan font-style="italic">T</tspan><tspan dy="1.65" font-size="5.40" font-style="italic">w</tspan></text>
<path d="M446.6,378.9 Q453.20,388.25 446.6,397.6" stroke="#222" stroke-width="0.8" fill="none" />
<text x="452.4" y="381.5" font-size="7.5" fill="#222" textLength="11.7" lengthAdjust="spacingAndGlyphs"><tspan>0.7</tspan></text>
<text x="467.6" y="390.5" font-size="10.5" fill="#222" textLength="25.7" lengthAdjust="spacingAndGlyphs"><tspan font-style="italic">Pr</tspan><tspan dy="-4.41" font-size="7.56">0.5</tspan></text>
<path d="M500.1,378.9 Q493.50,388.25 500.1,397.6" stroke="#222" stroke-width="0.8" fill="none" />
<text x="510.5" y="386.6" font-size="7.5" fill="#222"><tspan font-style="italic">y</tspan></text>
<rect x="502.6" y="389.15" width="19.90" height="0.5" fill="#222"/>
<text x="503" y="395.2" font-size="7.5" fill="#222" textLength="19.5" lengthAdjust="spacingAndGlyphs"><tspan font-style="italic">k</tspan><tspan dy="1.65" font-size="5.40" font-style="italic">rms</tspan></text>
<path d="M524.8,378.9 Q531.40,388.25 524.8,397.6" stroke="#222" stroke-width="0.8" fill="none" />
<text x="529.8" y="381.5" font-size="7.5" fill="#222" textLength="11" lengthAdjust="spacingAndGlyphs"><tspan>0.7</tspan></text>
<text x="546.5" y="377" font-size="10" fill="#222"><tspan>,</tspan></text>
<rect x="552.6" y="373.40" width="117.30" height="0.6" fill="#222"/>
<path d="M557.1,354 Q550.50,362.75 557.1,371.5" stroke="#222" stroke-width="0.8" fill="none" />
<text x="562.5" y="361.5" font-size="7.5" fill="#222"><tspan font-style="italic">T</tspan></text>
<rect x="559.4" y="363.75" width="11.30" height="0.5" fill="#222"/>
<text x="559.6" y="370.2" font-size="7.5" fill="#222" textLength="10.5" lengthAdjust="spacingAndGlyphs"><tspan font-style="italic">T</tspan><tspan dy="1.65" font-size="5.40" font-style="italic">w</tspan></text>
<path d="M573,354 Q579.60,362.75 573,371.5" stroke="#222" stroke-width="0.8" fill="none" />
<text x="579.8" y="355.5" font-size="7.5" fill="#222" textLength="11.3" lengthAdjust="spacingAndGlyphs"><tspan>0.3</tspan></text>
<text x="594.5" y="364.2" font-size="10.5" fill="#222" textLength="23.8" lengthAdjust="spacingAndGlyphs"><tspan>Re</tspan><tspan dy="-4.41" font-size="7.56">0.4</tspan></text>
<path d="M624.9,354 Q618.30,362.75 624.9,371.5" stroke="#222" stroke-width="0.8" fill="none" />
<text x="636.5" y="361.5" font-size="7.5" fill="#222"><tspan font-style="italic">y</tspan></text>
<rect x="627.3" y="363.75" width="22.70" height="0.5" fill="#222"/>
<text x="627.6" y="370.2" font-size="7.5" fill="#222" textLength="22" lengthAdjust="spacingAndGlyphs"><tspan font-style="italic">k</tspan><tspan dy="1.65" font-size="5.40" font-style="italic">rms</tspan></text>
<path d="M651.2,354 Q657.80,362.75 651.2,371.5" stroke="#222" stroke-width="0.8" fill="none" />
<text x="657.9" y="355.5" font-size="7.5" fill="#222" textLength="11.3" lengthAdjust="spacingAndGlyphs"><tspan>1.0</tspan></text>
<text x="565" y="389.8" font-size="10.5" fill="#222" textLength="21.6" lengthAdjust="spacingAndGlyphs"><tspan font-style="italic">M</tspan><tspan dy="-4.41" font-size="7.56">0.1</tspan></text>
<text x="588.8" y="389.8" font-size="10.5" fill="#222" textLength="26.1" lengthAdjust="spacingAndGlyphs"><tspan font-style="italic">Pr</tspan><tspan dy="-4.41" font-size="7.56">0.2</tspan></text>
<path d="M621.6,379 Q615.00,388.00 621.6,397" stroke="#222" stroke-width="0.8" fill="none" />
<text x="627.5" y="386.4" font-size="7.5" fill="#222"><tspan font-style="italic">y</tspan></text>
<rect x="623.9" y="388.75" width="12.50" height="0.5" fill="#222"/>
<text x="624.2" y="395" font-size="7.5" fill="#222" textLength="11" lengthAdjust="spacingAndGlyphs"><tspan font-style="italic">R</tspan><tspan dy="1.65" font-size="5.40">a</tspan></text>
<path d="M638.6,379 Q645.20,388.00 638.6,397" stroke="#222" stroke-width="0.8" fill="none" />
<text x="645.4" y="382" font-size="7.5" fill="#222" textLength="11.3" lengthAdjust="spacingAndGlyphs"><tspan>1.0</tspan></text>
<path d="M671.4,350.7 H674.8 V397 H671.4" stroke="#222" stroke-width="1.0" fill="none" />
<text x="455.3" y="429.8" font-size="12.5" fill="#222" textLength="9.3" lengthAdjust="spacingAndGlyphs"><tspan>Π</tspan></text>
<text x="464.6" y="432.2" font-size="8.5" fill="#222" textLength="13" lengthAdjust="spacingAndGlyphs"><tspan font-style="italic">τ</tspan><tspan>,</tspan><tspan font-style="italic">o</tspan></text>
<text x="481.5" y="429.8" font-size="12.5" fill="#222" textLength="9.4" lengthAdjust="spacingAndGlyphs"><tspan>=</tspan></text>
<rect x="495.3" y="426.55" width="23.30" height="0.7" fill="#222"/>
<text x="496.7" y="421.1" font-size="12.5" fill="#222" textLength="20.5" lengthAdjust="spacingAndGlyphs"><tspan font-style="italic">τ</tspan><tspan dy="2.75" font-size="9.00" font-style="italic">w</tspan><tspan dy="-2.75" font-style="italic">y</tspan></text>
<text x="499" y="437.7" font-size="12.5" fill="#222" textLength="15.2" lengthAdjust="spacingAndGlyphs"><tspan font-style="italic">μu</tspan></text>
<text x="519.8" y="430.8" font-size="12" fill="#222"><tspan>,</tspan></text>
<text x="536.1" y="429.8" font-size="12.5" fill="#222" textLength="10.3" lengthAdjust="spacingAndGlyphs"><tspan>Π</tspan></text>
<text x="546.4" y="432.2" font-size="8.5" fill="#222" textLength="13" lengthAdjust="spacingAndGlyphs"><tspan font-style="italic">q</tspan><tspan>,</tspan><tspan font-style="italic">o</tspan></text>
<text x="563.3" y="429.8" font-size="12.5" fill="#222" textLength="9.3" lengthAdjust="spacingAndGlyphs"><tspan>=</tspan></text>
<rect x="577" y="426.55" width="59.90" height="0.7" fill="#222"/>
<text x="596" y="421.1" font-size="12.5" fill="#222" textLength="21.9" lengthAdjust="spacingAndGlyphs"><tspan font-style="italic">q</tspan><tspan dy="2.75" font-size="9.00" font-style="italic">w</tspan><tspan dy="-2.75" font-style="italic">y</tspan></text>
<text x="578.5" y="437.7" font-size="12.5" fill="#222" textLength="57.8" lengthAdjust="spacingAndGlyphs"><tspan font-style="italic">κ</tspan><tspan> (</tspan><tspan font-style="italic">T</tspan><tspan> − </tspan><tspan font-style="italic">T</tspan><tspan dy="2.75" font-size="9.00" font-style="italic">w</tspan><tspan dy="-2.75">)</tspan></text>
<line x1="109.5" y1="471.6" x2="129.8" y2="471.6" stroke="#f2dc8a" stroke-width="1.6" />
<line x1="249" y1="471.6" x2="268.9" y2="471.6" stroke="#dd7a3a" stroke-width="1.6" />
<text x="137.5" y="475.20000000000005" font-size="10.6" fill="#2a2a2a" textLength="87.5" lengthAdjust="spacingAndGlyphs"><tspan font-style="italic">Re</tspan><tspan dy="2.33" font-size="7.63" font-style="italic">b</tspan><tspan dy="-2.33"> = 9993,  </tspan><tspan font-style="italic">M</tspan><tspan dy="2.33" font-size="7.63" font-style="italic">b</tspan><tspan dy="-2.33"> = 1.7</tspan></text>
<text x="277" y="475.20000000000005" font-size="10.6" fill="#2a2a2a" textLength="87.6" lengthAdjust="spacingAndGlyphs"><tspan font-style="italic">Re</tspan><tspan dy="2.33" font-size="7.63" font-style="italic">b</tspan><tspan dy="-2.33"> = 9979,  </tspan><tspan font-style="italic">M</tspan><tspan dy="2.33" font-size="7.63" font-style="italic">b</tspan><tspan dy="-2.33"> = 4.0</tspan></text>
<line x1="109.5" y1="485.4" x2="129.8" y2="485.4" stroke="#f5b040" stroke-width="1.6" />
<line x1="249" y1="485.4" x2="268.9" y2="485.4" stroke="#b5562a" stroke-width="1.6" />
<text x="137.5" y="489.0" font-size="10.6" fill="#2a2a2a" textLength="91.9" lengthAdjust="spacingAndGlyphs"><tspan font-style="italic">Re</tspan><tspan dy="2.33" font-size="7.63" font-style="italic">b</tspan><tspan dy="-2.33"> = 15491,  </tspan><tspan font-style="italic">M</tspan><tspan dy="2.33" font-size="7.63" font-style="italic">b</tspan><tspan dy="-2.33"> = 1.7</tspan></text>
<text x="277" y="489.0" font-size="10.6" fill="#2a2a2a" textLength="87.6" lengthAdjust="spacingAndGlyphs"><tspan font-style="italic">Re</tspan><tspan dy="2.33" font-size="7.63" font-style="italic">b</tspan><tspan dy="-2.33"> = 8430,  </tspan><tspan font-style="italic">M</tspan><tspan dy="2.33" font-size="7.63" font-style="italic">b</tspan><tspan dy="-2.33"> = 1.5</tspan></text>
<line x1="109.5" y1="498.8" x2="129.8" y2="498.8" stroke="#eb9548" stroke-width="1.6" />
<line x1="249" y1="498.8" x2="268.9" y2="498.8" stroke="#8a5a48" stroke-width="1.6" />
<text x="137.5" y="502.40000000000003" font-size="10.6" fill="#2a2a2a" textLength="91.9" lengthAdjust="spacingAndGlyphs"><tspan font-style="italic">Re</tspan><tspan dy="2.33" font-size="7.63" font-style="italic">b</tspan><tspan dy="-2.33"> = 23978,  </tspan><tspan font-style="italic">M</tspan><tspan dy="2.33" font-size="7.63" font-style="italic">b</tspan><tspan dy="-2.33"> = 3.0</tspan></text>
<text x="277" y="502.40000000000003" font-size="10.6" fill="#2a2a2a" textLength="91.9" lengthAdjust="spacingAndGlyphs"><tspan font-style="italic">Re</tspan><tspan dy="2.33" font-size="7.63" font-style="italic">b</tspan><tspan dy="-2.33"> = 18224,  </tspan><tspan font-style="italic">M</tspan><tspan dy="2.33" font-size="7.63" font-style="italic">b</tspan><tspan dy="-2.33"> = 1.5</tspan></text>
<rect x="121.3" y="518.3" width="97.60000000000001" height="107.5" fill="none" stroke="#3a3a3a" stroke-width="0.9"/>
<text x="90.2" y="521.5" font-size="14" fill="#2a2a2a">(<tspan font-style="italic">c</tspan>)</text>
<line x1="118.3" y1="621" x2="121.3" y2="621" stroke="#3a3a3a" stroke-width="0.8" />
<text x="117.8" y="625" font-size="11.5" fill="#2a2a2a" text-anchor="end">0</text>
<line x1="118.3" y1="570.3" x2="121.3" y2="570.3" stroke="#3a3a3a" stroke-width="0.8" />
<text x="117.8" y="574.3" font-size="11.5" fill="#2a2a2a" text-anchor="end">20</text>
<line x1="118.3" y1="519.9" x2="121.3" y2="519.9" stroke="#3a3a3a" stroke-width="0.8" />
<text x="117.8" y="523.9" font-size="11.5" fill="#2a2a2a" text-anchor="end">40</text>
<line x1="157.8" y1="625.8" x2="157.8" y2="628.8" stroke="#3a3a3a" stroke-width="0.8" />
<text x="151.3" y="638" font-size="11" fill="#2a2a2a"><tspan>10</tspan><tspan dy="-4.62" font-size="7.92">1</tspan></text>
<line x1="199.4" y1="625.8" x2="199.4" y2="628.8" stroke="#3a3a3a" stroke-width="0.8" />
<text x="192.9" y="638" font-size="11" fill="#2a2a2a"><tspan>10</tspan><tspan dy="-4.62" font-size="7.92">3</tspan></text>
<text x="163.5" y="654.5" font-size="13" fill="#2a2a2a"><tspan font-style="italic">y</tspan><tspan dy="-5.46" font-size="9.36">+</tspan></text>
<text transform="translate(100.5,578) rotate(-90)" font-size="13" fill="#2a2a2a"><tspan font-style="italic">u</tspan><tspan font-size="9.4" dy="-5.5">+</tspan></text>
<path d="M121.50,618.60 C123.10,618.60 128.03,619.00 131.10,618.60 C134.17,618.20 137.27,617.17 139.90,616.20 C142.53,615.23 144.72,614.25 146.90,612.80 C149.08,611.35 151.10,609.67 153.00,607.50 C154.90,605.33 156.68,602.38 158.30,599.80 C159.92,597.22 161.25,594.57 162.70,592.00 C164.15,589.43 166.28,585.67 167.00,584.40" stroke="#d8722e" stroke-width="2.6" fill="none"  stroke-linecap="round" stroke-linejoin="round"/>
<path d="M121.50,619.40 C123.10,619.37 128.03,619.67 131.10,619.20 C134.17,618.73 137.27,617.62 139.90,616.60 C142.53,615.58 144.72,614.57 146.90,613.10 C149.08,611.63 151.10,609.97 153.00,607.80 C154.90,605.63 156.68,602.68 158.30,600.10 C159.92,597.52 161.25,594.92 162.70,592.30 C164.15,589.68 165.87,587.28 167.00,584.40 C168.13,581.52 168.57,578.45 169.50,575.00 C170.43,571.55 170.95,568.03 172.60,563.70 C174.25,559.37 176.93,553.35 179.40,549.00 C181.87,544.65 184.00,541.90 187.40,537.60 C190.80,533.30 197.73,525.60 199.80,523.20" stroke="#e5823a" stroke-width="1.3" fill="none"  stroke-linecap="round" stroke-linejoin="round"/>
<path d="M121.50,619.40 C123.10,619.37 128.03,619.67 131.10,619.20 C134.17,618.73 137.27,617.62 139.90,616.60 C142.53,615.58 144.72,614.57 146.90,613.10 C149.08,611.63 151.10,609.97 153.00,607.80 C154.90,605.63 156.68,602.68 158.30,600.10 C159.92,597.52 161.25,594.92 162.70,592.30 C164.15,589.68 165.35,588.23 167.00,584.40 C168.65,580.57 170.53,573.13 172.60,569.30 C174.67,565.47 176.93,564.03 179.40,561.40 C181.87,558.77 184.38,557.08 187.40,553.50 C190.42,549.92 194.48,543.58 197.50,539.90 C200.52,536.22 204.17,532.82 205.50,531.40" stroke="#f2a54a" stroke-width="1.3" fill="none"  stroke-linecap="round" stroke-linejoin="round"/>
<path d="M121.50,619.40 C123.10,619.37 128.03,619.67 131.10,619.20 C134.17,618.73 137.27,617.62 139.90,616.60 C142.53,615.58 144.72,614.57 146.90,613.10 C149.08,611.63 151.10,609.97 153.00,607.80 C154.90,605.63 156.68,602.68 158.30,600.10 C159.92,597.52 161.25,594.92 162.70,592.30 C164.15,589.68 164.97,587.18 167.00,584.40 C169.03,581.62 172.07,578.40 174.90,575.60 C177.73,572.80 180.98,570.30 184.00,567.60 C187.02,564.90 190.37,561.70 193.00,559.40 C195.63,557.10 198.67,554.73 199.80,553.80" stroke="#7a3a20" stroke-width="1.3" fill="none"  stroke-linecap="round" stroke-linejoin="round"/>
<path d="M121.50,619.40 C123.10,619.37 128.03,619.67 131.10,619.20 C134.17,618.73 137.27,617.62 139.90,616.60 C142.53,615.58 144.72,614.57 146.90,613.10 C149.08,611.63 151.10,609.97 153.00,607.80 C154.90,605.63 156.68,602.68 158.30,600.10 C159.92,597.52 161.25,594.92 162.70,592.30 C164.15,589.68 164.97,587.28 167.00,584.40 C169.03,581.52 172.07,577.88 174.90,575.00 C177.73,572.12 180.98,569.83 184.00,567.10 C187.02,564.37 190.83,560.62 193.00,558.60 C195.17,556.58 196.33,555.60 197.00,555.00" stroke="#f0a040" stroke-width="1.2" fill="none"  stroke-linecap="round" stroke-linejoin="round"/>
<path d="M121.50,619.40 C123.10,619.37 128.03,619.67 131.10,619.20 C134.17,618.73 137.27,617.62 139.90,616.60 C142.53,615.58 144.72,614.57 146.90,613.10 C149.08,611.63 151.10,609.97 153.00,607.80 C154.90,605.63 156.68,602.68 158.30,600.10 C159.92,597.52 161.25,594.92 162.70,592.30 C164.15,589.68 164.97,587.40 167.00,584.40 C169.03,581.40 172.07,577.30 174.90,574.30 C177.73,571.30 180.98,569.15 184.00,566.40 C187.02,563.65 190.58,560.00 193.00,557.80 C195.42,555.60 197.58,553.97 198.50,553.20" stroke="#c0602a" stroke-width="1.2" fill="none"  stroke-linecap="round" stroke-linejoin="round"/>
<path d="M121.50,619.40 C123.10,619.37 128.03,619.67 131.10,619.20 C134.17,618.73 137.27,617.62 139.90,616.60 C142.53,615.58 144.72,614.57 146.90,613.10 C149.08,611.63 151.10,609.97 153.00,607.80 C154.90,605.63 156.68,602.68 158.30,600.10 C159.92,597.52 161.25,594.92 162.70,592.30 C164.15,589.68 164.97,587.50 167.00,584.40 C169.03,581.30 172.07,576.80 174.90,573.70 C177.73,570.60 181.32,568.25 184.00,565.80 C186.68,563.35 189.50,560.42 191.00,559.00 C192.50,557.58 192.67,557.58 193.00,557.30" stroke="#8a4a2a" stroke-width="1.1" fill="none"  stroke-linecap="round" stroke-linejoin="round"/>
<path d="M164.70,588.60 C166.02,587.65 169.38,585.17 172.60,582.90 C175.82,580.63 180.22,577.82 184.00,575.00 C187.78,572.18 191.72,569.58 195.30,566.00 C198.88,562.42 203.43,555.87 205.50,553.50 C207.57,551.13 206.20,552.03 207.70,551.80 C209.20,551.57 213.37,552.05 214.50,552.10" stroke="#9a5060" stroke-width="1.2" fill="none" stroke-dasharray="2.6 1.8" stroke-linecap="round" stroke-linejoin="round"/>
<rect x="267.7" y="518.3" width="97.69999999999999" height="107.70000000000005" fill="none" stroke="#3a3a3a" stroke-width="0.9"/>
<text x="228.5" y="521.5" font-size="14" fill="#2a2a2a">(<tspan font-style="italic">d</tspan>)</text>
<line x1="264.7" y1="621.1" x2="267.7" y2="621.1" stroke="#3a3a3a" stroke-width="0.8" />
<text x="264.2" y="625.1" font-size="11.5" fill="#2a2a2a" text-anchor="end">0</text>
<line x1="264.7" y1="585.3" x2="267.7" y2="585.3" stroke="#3a3a3a" stroke-width="0.8" />
<text x="264.2" y="589.3" font-size="11.5" fill="#2a2a2a" text-anchor="end">10</text>
<line x1="264.7" y1="549.3" x2="267.7" y2="549.3" stroke="#3a3a3a" stroke-width="0.8" />
<text x="264.2" y="553.3" font-size="11.5" fill="#2a2a2a" text-anchor="end">20</text>
<line x1="304.4" y1="626" x2="304.4" y2="629" stroke="#3a3a3a" stroke-width="0.8" />
<text x="297.9" y="638" font-size="11" fill="#2a2a2a"><tspan>10</tspan><tspan dy="-4.62" font-size="7.92">1</tspan></text>
<line x1="346.2" y1="626" x2="346.2" y2="629" stroke="#3a3a3a" stroke-width="0.8" />
<text x="339.7" y="638" font-size="11" fill="#2a2a2a"><tspan>10</tspan><tspan dy="-4.62" font-size="7.92">3</tspan></text>
<text x="309.9" y="652.3" font-size="13" fill="#2a2a2a"><tspan>Π</tspan><tspan dy="-4.68" font-size="7.54">∗</tspan></text>
<text transform="translate(243.6,581.5) rotate(-90)" font-size="12.5" fill="#2a2a2a">Π<tspan font-size="7" dx="-1.8" dy="-5.2">∗</tspan><tspan font-size="9" font-style="italic" dx="-5.4" dy="8.2">o</tspan></text>
<path d="M267.70,618.60 C269.75,618.47 276.43,618.55 280.00,617.80 C283.57,617.05 286.58,615.72 289.10,614.10 C291.62,612.48 293.10,610.87 295.10,608.10 C297.10,605.33 299.35,601.27 301.10,597.50 C302.85,593.73 304.10,589.25 305.60,585.50 C307.10,581.75 308.33,577.75 310.10,575.00 C311.87,572.25 313.68,571.02 316.20,569.00 C318.72,566.98 322.20,565.67 325.20,562.90 C328.20,560.13 331.20,555.65 334.20,552.40 C337.20,549.15 341.70,544.90 343.20,543.40" stroke="#c85e22" stroke-width="2.8" fill="none"  stroke-linecap="round" stroke-linejoin="round"/>
<path d="M267.70,618.60 C269.75,618.47 276.43,618.55 280.00,617.80 C283.57,617.05 286.58,615.72 289.10,614.10 C291.62,612.48 293.10,610.87 295.10,608.10 C297.10,605.33 299.35,601.27 301.10,597.50 C302.85,593.73 304.10,589.25 305.60,585.50 C307.10,581.75 308.33,577.75 310.10,575.00 C311.87,572.25 313.68,571.02 316.20,569.00 C318.72,566.98 322.20,565.67 325.20,562.90 C328.20,560.13 331.20,555.65 334.20,552.40 C337.20,549.15 341.70,544.90 343.20,543.40" stroke="#f08a30" stroke-width="1.6" fill="none"  stroke-linecap="round" stroke-linejoin="round"/>
<path d="M310.10,574.30 C311.12,573.30 313.68,570.32 316.20,568.30 C318.72,566.28 322.20,564.97 325.20,562.20 C328.20,559.43 331.20,554.95 334.20,551.70 C337.20,548.45 341.70,544.20 343.20,542.70" stroke="#7a4a30" stroke-width="0.8" fill="none"  stroke-linecap="round" stroke-linejoin="round"/>
<path d="M343.20,543.60 C343.95,542.35 346.18,539.37 347.70,536.10 C349.22,532.83 351.17,526.13 352.30,524.00 C353.43,521.87 353.00,523.42 354.50,523.30 C356.00,523.18 360.17,523.30 361.30,523.30" stroke="#9a5060" stroke-width="1.2" fill="none" stroke-dasharray="2.6 1.8" stroke-linecap="round" stroke-linejoin="round"/>
<polygon points="387.7,544.9 432,513.5 430.5,562 390.2,598.9" fill="#f2f2f2"/>
<polygon points="432,513.5 502.6,530.6 499.7,586.6 430.5,562" fill="#e6e6e6"/>
<polygon points="390.2,598.9 430.5,562 499.7,586.6 461.8,623.6" fill="#ececec"/>
<line x1="390.2" y1="598.9" x2="461.8" y2="623.6" stroke="#444" stroke-width="0.9" />
<line x1="461.8" y1="623.6" x2="499.7" y2="586.6" stroke="#444" stroke-width="0.9" />
<line x1="499.7" y1="586.6" x2="502.6" y2="530.6" stroke="#444" stroke-width="0.9" />
<path d="M415.5,596.0 Q411.3,588.5 413.5,581.0" stroke="#0000ff" stroke-width="1.4" fill="none" stroke-linecap="round"/>
<path d="M418.5,596.0 Q414.6,587.5 417.0,579.0" stroke="#0003fe" stroke-width="1.4" fill="none" stroke-linecap="round"/>
<path d="M421.5,597.0 Q418.1,585.5 421.0,574.0" stroke="#0006fc" stroke-width="1.4" fill="none" stroke-linecap="round"/>
<path d="M423.5,596.5 Q420.6,582.2 424.0,568.0" stroke="#0008fb" stroke-width="1.4" fill="none" stroke-linecap="round"/>
<path d="M426.5,597.0 Q424.1,581.0 428.0,565.0" stroke="#000bf9" stroke-width="1.4" fill="none" stroke-linecap="round"/>
<path d="M429.5,596.0 Q427.6,579.0 432.0,562.0" stroke="#000ef8" stroke-width="1.4" fill="none" stroke-linecap="round"/>
<path d="M433.0,593.0 Q431.3,576.5 436.0,560.0" stroke="#0011f7" stroke-width="1.4" fill="none" stroke-linecap="round"/>
<path d="M436.0,589.0 Q434.8,573.0 440.0,557.0" stroke="#0013f5" stroke-width="1.4" fill="none" stroke-linecap="round"/>
<path d="M439.0,585.0 Q438.3,569.5 444.0,554.0" stroke="#0016f4" stroke-width="1.4" fill="none" stroke-linecap="round"/>
<path d="M431.5,594.0 Q427.6,582.0 430.0,570.0" stroke="#0019f2" stroke-width="1.4" fill="none" stroke-linecap="round"/>
<path d="M427.5,595.0 Q423.6,585.0 426.0,575.0" stroke="#001cf1" stroke-width="1.4" fill="none" stroke-linecap="round"/>
<path d="M426.7,607.5 Q438.9,592.4 447.0,557.0" stroke="#f6f6f6" stroke-width="2.3" fill="none" stroke-linecap="round"/>
<path d="M426.7,607.5 Q438.9,592.4 447.0,557.0" stroke="#004cd9" stroke-width="1.4" fill="none" stroke-linecap="round"/>
<path d="M430.0,607.0 Q442.6,590.8 451.0,553.0" stroke="#f6f6f6" stroke-width="2.3" fill="none" stroke-linecap="round"/>
<path d="M430.0,607.0 Q442.6,590.8 451.0,553.0" stroke="#0055d4" stroke-width="1.4" fill="none" stroke-linecap="round"/>
<path d="M433.0,606.5 Q445.1,588.9 453.2,547.7" stroke="#f6f6f6" stroke-width="2.3" fill="none" stroke-linecap="round"/>
<path d="M433.0,606.5 Q445.1,588.9 453.2,547.7" stroke="#005ed0" stroke-width="1.4" fill="none" stroke-linecap="round"/>
<path d="M436.0,606.0 Q447.4,590.1 455.0,553.0" stroke="#f6f6f6" stroke-width="2.3" fill="none" stroke-linecap="round"/>
<path d="M436.0,606.0 Q447.4,590.1 455.0,553.0" stroke="#0067cb" stroke-width="1.4" fill="none" stroke-linecap="round"/>
<path d="M439.0,607.0 Q451.5,591.5 459.9,555.3" stroke="#f6f6f6" stroke-width="2.3" fill="none" stroke-linecap="round"/>
<path d="M439.0,607.0 Q451.5,591.5 459.9,555.3" stroke="#0070c7" stroke-width="1.4" fill="none" stroke-linecap="round"/>
<path d="M441.8,607.5 Q453.9,590.9 462.0,552.0" stroke="#f6f6f6" stroke-width="2.3" fill="none" stroke-linecap="round"/>
<path d="M441.8,607.5 Q453.9,590.9 462.0,552.0" stroke="#0079c2" stroke-width="1.4" fill="none" stroke-linecap="round"/>
<path d="M444.0,605.0 Q457.0,589.2 465.6,552.4" stroke="#f6f6f6" stroke-width="2.3" fill="none" stroke-linecap="round"/>
<path d="M444.0,605.0 Q457.0,589.2 465.6,552.4" stroke="#0082be" stroke-width="1.4" fill="none" stroke-linecap="round"/>
<path d="M447.0,604.0 Q459.6,587.5 468.0,549.0" stroke="#f6f6f6" stroke-width="2.3" fill="none" stroke-linecap="round"/>
<path d="M447.0,604.0 Q459.6,587.5 468.0,549.0" stroke="#008bba" stroke-width="1.4" fill="none" stroke-linecap="round"/>
<path d="M450.0,603.0 Q462.2,585.8 470.3,545.8" stroke="#f6f6f6" stroke-width="2.3" fill="none" stroke-linecap="round"/>
<path d="M450.0,603.0 Q462.2,585.8 470.3,545.8" stroke="#0094b5" stroke-width="1.4" fill="none" stroke-linecap="round"/>
<path d="M452.0,602.0 Q463.4,586.4 471.0,550.0" stroke="#f6f6f6" stroke-width="2.3" fill="none" stroke-linecap="round"/>
<path d="M452.0,602.0 Q463.4,586.4 471.0,550.0" stroke="#009db1" stroke-width="1.4" fill="none" stroke-linecap="round"/>
<path d="M455.1,601.8 Q469.8,583.0 478.8,539.2" stroke="#f6f6f6" stroke-width="2.3" fill="none" stroke-linecap="round"/>
<path d="M455.1,601.8 Q469.8,583.0 478.8,539.2" stroke="#00b8a3" stroke-width="1.4" fill="none" stroke-linecap="round"/>
<path d="M458.0,598.0 Q472.9,581.2 482.0,542.0" stroke="#f6f6f6" stroke-width="2.3" fill="none" stroke-linecap="round"/>
<path d="M458.0,598.0 Q472.9,581.2 482.0,542.0" stroke="#00c39d" stroke-width="1.4" fill="none" stroke-linecap="round"/>
<path d="M460.0,596.0 Q475.5,579.2 485.0,540.0" stroke="#f6f6f6" stroke-width="2.3" fill="none" stroke-linecap="round"/>
<path d="M460.0,596.0 Q475.5,579.2 485.0,540.0" stroke="#00cf97" stroke-width="1.4" fill="none" stroke-linecap="round"/>
<path d="M462.7,594.2 Q478.0,578.2 487.4,541.0" stroke="#f6f6f6" stroke-width="2.3" fill="none" stroke-linecap="round"/>
<path d="M462.7,594.2 Q478.0,578.2 487.4,541.0" stroke="#00db91" stroke-width="1.4" fill="none" stroke-linecap="round"/>
<path d="M466.5,592.3 Q481.1,575.4 490.0,536.0" stroke="#f6f6f6" stroke-width="2.3" fill="none" stroke-linecap="round"/>
<path d="M466.5,592.3 Q481.1,575.4 490.0,536.0" stroke="#00e78b" stroke-width="1.4" fill="none" stroke-linecap="round"/>
<path d="M468.0,590.0 Q484.7,572.8 495.0,532.5" stroke="#f6f6f6" stroke-width="2.3" fill="none" stroke-linecap="round"/>
<path d="M468.0,590.0 Q484.7,572.8 495.0,532.5" stroke="#00f385" stroke-width="1.4" fill="none" stroke-linecap="round"/>
<text x="384.5" y="518.5" font-size="14.5" fill="#2a2a2a">(<tspan font-style="italic">e</tspan>)</text>
<text x="388.8" y="616" font-size="8.8" fill="#3a3a3a">0.75</text>
<text x="404" y="621.5" font-size="8.8" fill="#3a3a3a">1.00</text>
<text x="420.5" y="627" font-size="8.8" fill="#3a3a3a">1.25</text>
<text x="436.9" y="632.5" font-size="8.8" fill="#3a3a3a">1.50</text>
<text x="470.9" y="630.5" font-size="8.8" fill="#3a3a3a">5</text>
<text x="479.6" y="619.5" font-size="8.8" fill="#3a3a3a">10</text>
<text x="488.4" y="609" font-size="8.8" fill="#3a3a3a">15</text>
<text x="498.2" y="598.7" font-size="8.8" fill="#3a3a3a">20</text>
<text x="506" y="571.3" font-size="8.8" fill="#3a3a3a">10</text>
<line x1="500.5" y1="567.8" x2="503.5" y2="567.8" stroke="#444" stroke-width="0.7" />
<text x="506" y="551.6" font-size="8.8" fill="#3a3a3a">20</text>
<line x1="500.5" y1="548.1" x2="503.5" y2="548.1" stroke="#444" stroke-width="0.7" />
<text x="409" y="637" font-size="11" fill="#2a2a2a" transform="rotate(14 415 636)">Π<tspan font-size="8" dy="-4.5">∗</tspan><tspan font-size="8" font-style="italic" dx="-4" dy="8">τ,1</tspan></text>
<text x="0" y="0" font-size="11" fill="#2a2a2a" transform="translate(491,628) rotate(-45)">Π<tspan font-size="8" dy="-4.5">∗</tspan><tspan font-size="8" font-style="italic" dx="-4" dy="8">τ,2</tspan></text>
<text x="0" y="0" font-size="12" fill="#2a2a2a" transform="translate(526,568) rotate(-90)">Π<tspan font-size="8" dy="-4.5">∗</tspan><tspan font-size="8" font-style="italic" dx="-4" dy="8">τ,o</tspan></text>
<polygon points="541.3,545.3 585.4,513.6 584,562 543.6,599.6" fill="#f2f2f2"/>
<polygon points="585.4,513.6 655.6,531.7 654,585.5 584,562" fill="#e6e6e6"/>
<polygon points="543.6,599.6 584,562 654,585.5 616,623.3" fill="#ececec"/>
<line x1="543.6" y1="599.6" x2="616" y2="623.3" stroke="#444" stroke-width="0.9" />
<line x1="616" y1="623.3" x2="654" y2="585.5" stroke="#444" stroke-width="0.9" />
<line x1="654" y1="585.5" x2="655.6" y2="531.7" stroke="#444" stroke-width="0.9" />
<path d="M560.8,593.6 Q567.5,582.1 574.3,568.0" stroke="#0000ff" stroke-width="1.0" fill="none" stroke-linecap="round"/>
<path d="M561.6,594.0 Q568.3,582.4 575.1,568.3" stroke="#0001fe" stroke-width="1.0" fill="none" stroke-linecap="round"/>
<path d="M562.4,594.3 Q569.1,582.8 575.9,568.7" stroke="#0002fe" stroke-width="1.0" fill="none" stroke-linecap="round"/>
<path d="M563.2,594.7 Q569.9,583.1 576.7,569.0" stroke="#0003fd" stroke-width="1.0" fill="none" stroke-linecap="round"/>
<path d="M563.9,595.0 Q570.7,583.5 577.4,569.4" stroke="#0004fd" stroke-width="1.0" fill="none" stroke-linecap="round"/>
<path d="M564.7,595.4 Q571.5,583.8 578.2,569.7" stroke="#0005fc" stroke-width="1.0" fill="none" stroke-linecap="round"/>
<path d="M565.5,595.7 Q572.3,584.2 579.0,570.1" stroke="#0007fc" stroke-width="1.0" fill="none" stroke-linecap="round"/>
<path d="M566.3,596.1 Q576.8,578.1 587.3,556.2" stroke="#0008fb" stroke-width="1.0" fill="none" stroke-linecap="round"/>
<path d="M567.1,596.5 Q577.6,578.5 588.1,556.6" stroke="#0009fb" stroke-width="1.0" fill="none" stroke-linecap="round"/>
<path d="M567.9,596.8 Q578.4,578.9 588.9,556.9" stroke="#000afa" stroke-width="1.0" fill="none" stroke-linecap="round"/>
<path d="M568.7,597.2 Q579.2,579.2 589.7,557.3" stroke="#000bfa" stroke-width="1.0" fill="none" stroke-linecap="round"/>
<path d="M569.4,597.5 Q579.9,579.6 590.4,557.6" stroke="#000cf9" stroke-width="1.0" fill="none" stroke-linecap="round"/>
<path d="M570.2,597.9 Q580.7,579.9 591.2,558.0" stroke="#000df8" stroke-width="1.0" fill="none" stroke-linecap="round"/>
<path d="M571.0,598.2 Q581.5,580.3 592.0,558.3" stroke="#000ef8" stroke-width="1.0" fill="none" stroke-linecap="round"/>
<path d="M571.8,598.6 Q582.3,580.6 592.8,558.7" stroke="#000ff7" stroke-width="1.0" fill="none" stroke-linecap="round"/>
<path d="M562.2,600.6 Q581.4,585.0 593.2,548.7" stroke="#001ff0" stroke-width="1.3" fill="none" stroke-linecap="round"/>
<path d="M564.1,600.9 Q581.3,584.6 591.8,546.6" stroke="#0026ec" stroke-width="1.3" fill="none" stroke-linecap="round"/>
<path d="M566.1,600.5 Q585.3,583.9 597.1,545.1" stroke="#002ee8" stroke-width="1.3" fill="none" stroke-linecap="round"/>
<path d="M566.7,599.9 Q585.7,584.2 597.4,547.7" stroke="#0036e4" stroke-width="1.3" fill="none" stroke-linecap="round"/>
<path d="M567.4,599.8 Q586.4,584.8 598.1,549.6" stroke="#003de0" stroke-width="1.3" fill="none" stroke-linecap="round"/>
<path d="M570.5,599.7 Q590.0,583.6 601.9,546.0" stroke="#0045dd" stroke-width="1.3" fill="none" stroke-linecap="round"/>
<path d="M571.8,599.7 Q589.5,584.8 600.4,550.0" stroke="#004dd9" stroke-width="1.3" fill="none" stroke-linecap="round"/>
<path d="M572.6,599.8 Q593.4,584.9 606.1,550.2" stroke="#0054d5" stroke-width="1.3" fill="none" stroke-linecap="round"/>
<path d="M574.4,600.9 Q594.0,585.5 606.0,549.5" stroke="#005cd1" stroke-width="1.3" fill="none" stroke-linecap="round"/>
<path d="M575.8,600.9 Q596.0,586.0 608.4,551.2" stroke="#0063cd" stroke-width="1.3" fill="none" stroke-linecap="round"/>
<path d="M578.8,599.9 Q597.4,584.2 608.8,547.5" stroke="#006bc9" stroke-width="1.3" fill="none" stroke-linecap="round"/>
<path d="M578.9,599.6 Q598.3,584.7 610.3,549.9" stroke="#0073c6" stroke-width="1.3" fill="none" stroke-linecap="round"/>
<path d="M580.2,600.5 Q600.0,585.0 612.2,548.7" stroke="#007ac2" stroke-width="1.3" fill="none" stroke-linecap="round"/>
<path d="M583.4,600.2 Q602.3,585.1 613.8,549.9" stroke="#0082be" stroke-width="1.3" fill="none" stroke-linecap="round"/>
<path d="M584.8,599.6 Q605.5,584.1 618.2,547.8" stroke="#008aba" stroke-width="1.3" fill="none" stroke-linecap="round"/>
<path d="M586.5,600.8 Q604.8,586.1 616.1,551.9" stroke="#0091b6" stroke-width="1.3" fill="none" stroke-linecap="round"/>
<path d="M584.7,600.0 Q607.6,583.2 618.3,544.0" stroke="#0099b2" stroke-width="1.3" fill="none" stroke-linecap="round"/>
<path d="M585.9,599.7 Q608.6,583.8 619.3,546.7" stroke="#00a2ae" stroke-width="1.3" fill="none" stroke-linecap="round"/>
<path d="M588.0,599.5 Q612.6,583.3 624.1,545.5" stroke="#00aca9" stroke-width="1.3" fill="none" stroke-linecap="round"/>
<path d="M591.3,599.2 Q614.2,582.1 625.0,542.1" stroke="#00b5a5" stroke-width="1.3" fill="none" stroke-linecap="round"/>
<path d="M592.3,598.9 Q617.5,581.3 629.3,540.1" stroke="#00bea0" stroke-width="1.3" fill="none" stroke-linecap="round"/>
<path d="M594.6,598.6 Q620.0,581.6 631.9,542.0" stroke="#00c79b" stroke-width="1.3" fill="none" stroke-linecap="round"/>
<path d="M595.0,598.4 Q622.2,580.2 635.1,537.8" stroke="#00d197" stroke-width="1.3" fill="none" stroke-linecap="round"/>
<path d="M597.4,598.1 Q623.8,580.7 636.3,540.0" stroke="#00da92" stroke-width="1.3" fill="none" stroke-linecap="round"/>
<path d="M599.2,597.8 Q627.0,579.7 640.1,537.5" stroke="#00e38d" stroke-width="1.3" fill="none" stroke-linecap="round"/>
<path d="M601.0,597.5 Q627.6,578.7 640.2,534.9" stroke="#00ec89" stroke-width="1.3" fill="none" stroke-linecap="round"/>
<path d="M602.3,597.3 Q629.3,578.8 642.1,535.8" stroke="#00f684" stroke-width="1.3" fill="none" stroke-linecap="round"/>
<path d="M606.0,597.0 Q632.3,577.6 644.6,532.2" stroke="#00ff80" stroke-width="1.3" fill="none" stroke-linecap="round"/>
<text x="530.5" y="520.5" font-size="14.5" fill="#2a2a2a">(<tspan font-style="italic">f</tspan>)</text>
<text x="547" y="616.5" font-size="8.8" fill="#3a3a3a">2.5</text>
<text x="561.7" y="622.3" font-size="8.8" fill="#3a3a3a">5.0</text>
<text x="577.5" y="627.5" font-size="8.8" fill="#3a3a3a">7.5</text>
<text x="591" y="632.5" font-size="8.8" fill="#3a3a3a">10.0</text>
<text x="625" y="630.2" font-size="8.8" fill="#3a3a3a">5</text>
<text x="633" y="620" font-size="8.8" fill="#3a3a3a">10</text>
<text x="642" y="609.9" font-size="8.8" fill="#3a3a3a">15</text>
<text x="652" y="599.7" font-size="8.8" fill="#3a3a3a">20</text>
<text x="660" y="575.9" font-size="8.8" fill="#3a3a3a">5</text>
<line x1="654.5" y1="572.4" x2="657.5" y2="572.4" stroke="#444" stroke-width="0.7" />
<text x="660" y="560.1" font-size="8.8" fill="#3a3a3a">10</text>
<line x1="654.5" y1="556.6" x2="657.5" y2="556.6" stroke="#444" stroke-width="0.7" />
<text x="660" y="544.2" font-size="8.8" fill="#3a3a3a">15</text>
<line x1="654.5" y1="540.7" x2="657.5" y2="540.7" stroke="#444" stroke-width="0.7" />
<text x="563" y="637.5" font-size="11" fill="#2a2a2a" transform="rotate(14 570 636)">Π<tspan font-size="8" dy="-4.5">∗</tspan><tspan font-size="8" font-style="italic" dx="-4" dy="8">q,1</tspan></text>
<text x="0" y="0" font-size="11" fill="#2a2a2a" transform="translate(645,629) rotate(-45)">Π<tspan font-size="8" dy="-4.5">∗</tspan><tspan font-size="8" font-style="italic" dx="-4" dy="8">q,2</tspan></text>
<text x="0" y="0" font-size="12" fill="#2a2a2a" transform="translate(679,566) rotate(-90)">Π<tspan font-size="8" dy="-4.5">∗</tspan><tspan font-size="8" font-style="italic" dx="-4" dy="8">q,o</tspan></text>
<line x1="185.3" y1="726.2" x2="188.3" y2="726.2" stroke="#3a3a3a" stroke-width="0.7" />
<text x="184.8" y="729.6" font-size="9.6" fill="#333" text-anchor="end">0.0</text>
<line x1="185.3" y1="715.8000000000001" x2="188.3" y2="715.8000000000001" stroke="#3a3a3a" stroke-width="0.7" />
<text x="184.8" y="719.2" font-size="9.6" fill="#333" text-anchor="end">0.2</text>
<line x1="185.3" y1="705.4000000000001" x2="188.3" y2="705.4000000000001" stroke="#3a3a3a" stroke-width="0.7" />
<text x="184.8" y="708.8000000000001" font-size="9.6" fill="#333" text-anchor="end">0.4</text>
<line x1="185.3" y1="695.0" x2="188.3" y2="695.0" stroke="#3a3a3a" stroke-width="0.7" />
<text x="184.8" y="698.4" font-size="9.6" fill="#333" text-anchor="end">0.6</text>
<line x1="185.3" y1="684.6" x2="188.3" y2="684.6" stroke="#3a3a3a" stroke-width="0.7" />
<text x="184.8" y="688.0" font-size="9.6" fill="#333" text-anchor="end">0.8</text>
<line x1="185.3" y1="674.2" x2="188.3" y2="674.2" stroke="#3a3a3a" stroke-width="0.7" />
<text x="184.8" y="677.6" font-size="9.6" fill="#333" text-anchor="end">1.0</text>
<rect x="193.6" y="720.22" width="95.1" height="5.98" fill="#ff0000" stroke="#222" stroke-width="0.8"/>
<line x1="241.14999999999998" y1="717.62" x2="241.14999999999998" y2="722.82" stroke="#222" stroke-width="1.0" />
<line x1="238.64999999999998" y1="717.62" x2="243.64999999999998" y2="717.62" stroke="#222" stroke-width="1.0" />
<line x1="238.64999999999998" y1="722.82" x2="243.64999999999998" y2="722.82" stroke="#222" stroke-width="1.0" />
<rect x="188.3" y="674.2" width="105.09999999999997" height="52.0" fill="none" stroke="#3a3a3a" stroke-width="0.9"/>
<line x1="241" y1="726.2" x2="241" y2="729.2" stroke="#3a3a3a" stroke-width="0.7" />
<text x="235.5" y="736.7" font-size="10.5" fill="#2a2a2a">Π<tspan font-size="6" dy="-4">∗</tspan></text>
<text x="0" y="0" font-size="12" fill="#2a2a2a" font-style="italic" transform="translate(164.5,703.5) rotate(-90)" text-anchor="middle">ϵ<tspan font-size="8.5" dy="2.2">LB</tspan></text>
<text x="0" y="0" font-size="10" fill="#2a2a2a" transform="translate(163.0,710.1) rotate(-90)">˜</text>
<text x="134.5" y="684" font-size="14.5" fill="#2a2a2a">(<tspan font-style="italic">g</tspan>)</text>
<line x1="417.2" y1="726.7" x2="420.2" y2="726.7" stroke="#3a3a3a" stroke-width="0.7" />
<text x="416.7" y="730.1" font-size="9.6" fill="#333" text-anchor="end">0.0</text>
<line x1="417.2" y1="716.34" x2="420.2" y2="716.34" stroke="#3a3a3a" stroke-width="0.7" />
<text x="416.7" y="719.74" font-size="9.6" fill="#333" text-anchor="end">0.2</text>
<line x1="417.2" y1="705.98" x2="420.2" y2="705.98" stroke="#3a3a3a" stroke-width="0.7" />
<text x="416.7" y="709.38" font-size="9.6" fill="#333" text-anchor="end">0.4</text>
<line x1="417.2" y1="695.62" x2="420.2" y2="695.62" stroke="#3a3a3a" stroke-width="0.7" />
<text x="416.7" y="699.02" font-size="9.6" fill="#333" text-anchor="end">0.6</text>
<line x1="417.2" y1="685.26" x2="420.2" y2="685.26" stroke="#3a3a3a" stroke-width="0.7" />
<text x="416.7" y="688.66" font-size="9.6" fill="#333" text-anchor="end">0.8</text>
<line x1="417.2" y1="674.9" x2="420.2" y2="674.9" stroke="#3a3a3a" stroke-width="0.7" />
<text x="416.7" y="678.3" font-size="9.6" fill="#333" text-anchor="end">1.0</text>
<rect x="425" y="681.63" width="27.399999999999977" height="45.07" fill="#ff0000" stroke="#222" stroke-width="0.8"/>
<line x1="438.7" y1="680.857" x2="438.7" y2="682.411" stroke="#222" stroke-width="1.0" />
<line x1="436.2" y1="680.857" x2="441.2" y2="680.857" stroke="#222" stroke-width="1.0" />
<line x1="436.2" y1="682.411" x2="441.2" y2="682.411" stroke="#222" stroke-width="1.0" />
<rect x="459.4" y="707.53" width="27.30000000000001" height="19.17" fill="#ff0000" stroke="#222" stroke-width="0.8"/>
<line x1="473.04999999999995" y1="707.275" x2="473.04999999999995" y2="707.793" stroke="#222" stroke-width="1.0" />
<line x1="470.54999999999995" y1="707.275" x2="475.54999999999995" y2="707.275" stroke="#222" stroke-width="1.0" />
<line x1="470.54999999999995" y1="707.793" x2="475.54999999999995" y2="707.793" stroke="#222" stroke-width="1.0" />
<rect x="493.3" y="716.86" width="26.900000000000034" height="9.84" fill="#ff0000" stroke="#222" stroke-width="0.8"/>
<line x1="506.75" y1="715.3040000000001" x2="506.75" y2="718.412" stroke="#222" stroke-width="1.0" />
<line x1="504.25" y1="715.3040000000001" x2="509.25" y2="715.3040000000001" stroke="#222" stroke-width="1.0" />
<line x1="504.25" y1="718.412" x2="509.25" y2="718.412" stroke="#222" stroke-width="1.0" />
<rect x="420.2" y="674.9" width="105.80000000000001" height="51.80000000000007" fill="none" stroke="#3a3a3a" stroke-width="0.9"/>
<line x1="438.7" y1="726.7" x2="438.7" y2="729.7" stroke="#3a3a3a" stroke-width="0.7" />
<text x="433.2" y="737.2" font-size="10.5" fill="#2a2a2a">Π<tspan font-size="6" dy="-4">∗</tspan><tspan font-size="7" font-style="italic" dx="-4.2" dy="7.2">τ,1</tspan></text>
<line x1="473" y1="726.7" x2="473" y2="729.7" stroke="#3a3a3a" stroke-width="0.7" />
<text x="467.5" y="737.2" font-size="10.5" fill="#2a2a2a">Π<tspan font-size="6" dy="-4">∗</tspan><tspan font-size="7" font-style="italic" dx="-4.2" dy="7.2">τ,2</tspan></text>
<line x1="506.7" y1="726.7" x2="506.7" y2="729.7" stroke="#3a3a3a" stroke-width="0.7" />
<text x="501.2" y="737.2" font-size="10.5" fill="#2a2a2a" font-weight="700">Π<tspan font-size="6" dy="-4">∗</tspan><tspan font-size="7" font-style="italic" dx="-4.2" dy="7.2">τ</tspan></text>
<text x="0" y="0" font-size="12" fill="#2a2a2a" font-style="italic" transform="translate(395.5,701.7) rotate(-90)" text-anchor="middle">ϵ<tspan font-size="8.5" dy="2.2">LB</tspan></text>
<text x="0" y="0" font-size="10" fill="#2a2a2a" transform="translate(394.0,708.3000000000001) rotate(-90)">˜</text>
<text x="385" y="680" font-size="14.5" fill="#2a2a2a">(<tspan font-style="italic">h</tspan>)</text>
<line x1="571.1" y1="725.8" x2="574.1" y2="725.8" stroke="#3a3a3a" stroke-width="0.7" />
<text x="570.6" y="729.1999999999999" font-size="9.6" fill="#333" text-anchor="end">0.0</text>
<line x1="571.1" y1="715.8399999999999" x2="574.1" y2="715.8399999999999" stroke="#3a3a3a" stroke-width="0.7" />
<text x="570.6" y="719.2399999999999" font-size="9.6" fill="#333" text-anchor="end">0.2</text>
<line x1="571.1" y1="705.88" x2="574.1" y2="705.88" stroke="#3a3a3a" stroke-width="0.7" />
<text x="570.6" y="709.28" font-size="9.6" fill="#333" text-anchor="end">0.4</text>
<line x1="571.1" y1="695.92" x2="574.1" y2="695.92" stroke="#3a3a3a" stroke-width="0.7" />
<text x="570.6" y="699.3199999999999" font-size="9.6" fill="#333" text-anchor="end">0.6</text>
<line x1="571.1" y1="685.96" x2="574.1" y2="685.96" stroke="#3a3a3a" stroke-width="0.7" />
<text x="570.6" y="689.36" font-size="9.6" fill="#333" text-anchor="end">0.8</text>
<line x1="571.1" y1="676.0" x2="574.1" y2="676.0" stroke="#3a3a3a" stroke-width="0.7" />
<text x="570.6" y="679.4" font-size="9.6" fill="#333" text-anchor="end">1.0</text>
<rect x="578.7" y="690.94" width="26.0" height="34.86" fill="#ff0000" stroke="#222" stroke-width="0.8"/>
<line x1="591.7" y1="690.193" x2="591.7" y2="691.687" stroke="#222" stroke-width="1.0" />
<line x1="589.2" y1="690.193" x2="594.2" y2="690.193" stroke="#222" stroke-width="1.0" />
<line x1="589.2" y1="691.687" x2="594.2" y2="691.687" stroke="#222" stroke-width="1.0" />
<rect x="611.5" y="704.88" width="26.0" height="20.92" fill="#ff0000" stroke="#222" stroke-width="0.8"/>
<line x1="624.5" y1="704.386" x2="624.5" y2="705.382" stroke="#222" stroke-width="1.0" />
<line x1="622.0" y1="704.386" x2="627.0" y2="704.386" stroke="#222" stroke-width="1.0" />
<line x1="622.0" y1="705.382" x2="627.0" y2="705.382" stroke="#222" stroke-width="1.0" />
<rect x="644.3" y="721.32" width="26.0" height="4.48" fill="#ff0000" stroke="#222" stroke-width="0.8"/>
<line x1="657.3" y1="720.322" x2="657.3" y2="722.314" stroke="#222" stroke-width="1.0" />
<line x1="654.8" y1="720.322" x2="659.8" y2="720.322" stroke="#222" stroke-width="1.0" />
<line x1="654.8" y1="722.314" x2="659.8" y2="722.314" stroke="#222" stroke-width="1.0" />
<rect x="574.1" y="676" width="100.69999999999993" height="49.799999999999955" fill="none" stroke="#3a3a3a" stroke-width="0.9"/>
<line x1="591.7" y1="725.8" x2="591.7" y2="728.8" stroke="#3a3a3a" stroke-width="0.7" />
<text x="586.2" y="736.3" font-size="10.5" fill="#2a2a2a">Π<tspan font-size="6" dy="-4">∗</tspan><tspan font-size="7" font-style="italic" dx="-4.2" dy="7.2">q,1</tspan></text>
<line x1="624.5" y1="725.8" x2="624.5" y2="728.8" stroke="#3a3a3a" stroke-width="0.7" />
<text x="619.0" y="736.3" font-size="10.5" fill="#2a2a2a">Π<tspan font-size="6" dy="-4">∗</tspan><tspan font-size="7" font-style="italic" dx="-4.2" dy="7.2">q,2</tspan></text>
<line x1="657.3" y1="725.8" x2="657.3" y2="728.8" stroke="#3a3a3a" stroke-width="0.7" />
<text x="651.8" y="736.3" font-size="10.5" fill="#2a2a2a" font-weight="700">Π<tspan font-size="6" dy="-4">∗</tspan><tspan font-size="7" font-style="italic" dx="-4.2" dy="7.2">q</tspan></text>
<text x="0" y="0" font-size="12" fill="#2a2a2a" font-style="italic" transform="translate(551.5,702.5) rotate(-90)" text-anchor="middle">ϵ<tspan font-size="8.5" dy="2.2">LB</tspan></text>
<text x="0" y="0" font-size="10" fill="#2a2a2a" transform="translate(550.0,709.1) rotate(-90)">˜</text>
<text x="545.4" y="677" font-size="14.5" fill="#2a2a2a">(<tspan font-style="italic">i</tspan>)</text>
</svg>
</body></html>
